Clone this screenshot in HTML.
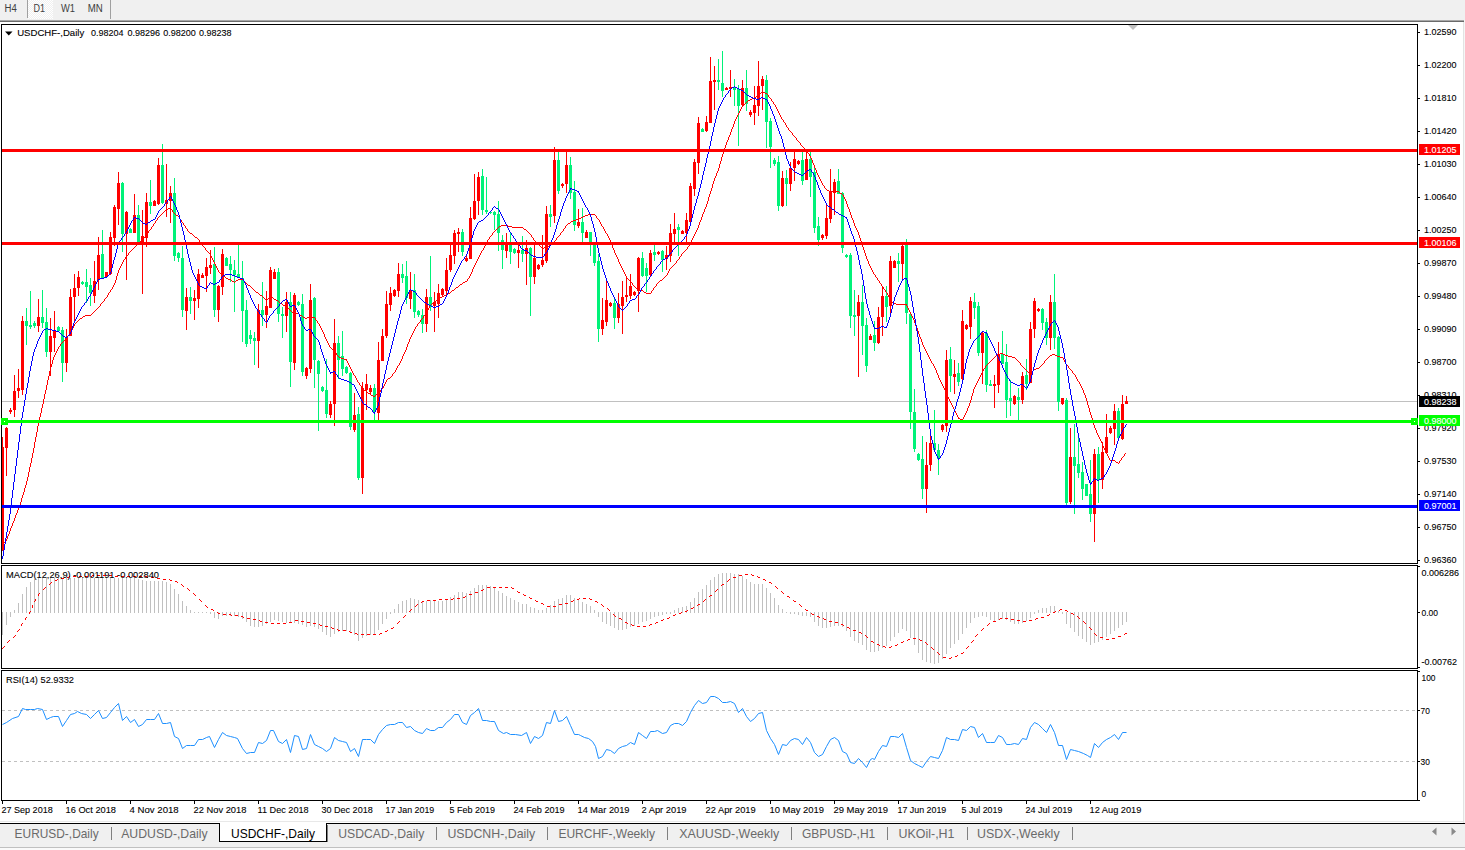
<!DOCTYPE html>
<html><head><meta charset="utf-8"><title>USDCHF-,Daily</title>
<style>html,body{margin:0;padding:0;background:#fff;width:1465px;height:850px;overflow:hidden;font-family:"Liberation Sans",sans-serif}</style></head>
<body>
<svg width="1465" height="850" viewBox="0 0 1465 850" style="position:absolute;left:0;top:0;font-family:'Liberation Sans',sans-serif" shape-rendering="crispEdges">
<rect x="0" y="0" width="1465" height="850" fill="#ffffff" />
<rect x="0" y="0" width="1465" height="20" fill="#f0f0f0" />
<defs><pattern id="chk" width="2" height="2" patternUnits="userSpaceOnUse"><rect width="2" height="2" fill="#f0f0f0"/><rect width="1" height="1" fill="#fff"/><rect x="1" y="1" width="1" height="1" fill="#fff"/></pattern></defs>
<rect x="28" y="0" width="25" height="19" fill="url(#chk)" />
<rect x="27" y="0" width="1" height="18" fill="#a0a0a0" />
<rect x="110" y="0" width="1" height="19" fill="#a0a0a0" />
<rect x="0" y="20" width="1464" height="1" fill="#a8a8a8" />
<rect x="0" y="21" width="1464" height="1" fill="#6a6a6a" />
<text x="4.5" y="11.7" font-size="10" fill="#404040" text-anchor="start" textLength="12.3" lengthAdjust="spacingAndGlyphs" >H4</text>
<text x="33.6" y="11.7" font-size="10" fill="#404040" text-anchor="start" textLength="11.5" lengthAdjust="spacingAndGlyphs" >D1</text>
<text x="61" y="11.7" font-size="10" fill="#404040" text-anchor="start" textLength="14" lengthAdjust="spacingAndGlyphs" >W1</text>
<text x="87.7" y="11.7" font-size="10" fill="#404040" text-anchor="start" textLength="15" lengthAdjust="spacingAndGlyphs" >MN</text>
<rect x="1463" y="22" width="1" height="801" fill="#e3e3e3" />
<rect x="1464" y="20" width="1" height="803" fill="#f6f6f6" />
<rect x="1" y="24" width="1417" height="1" fill="#000" />
<rect x="1" y="563" width="1417" height="1" fill="#000" />
<rect x="1" y="565" width="1417" height="1" fill="#000" />
<rect x="1" y="668" width="1417" height="1" fill="#000" />
<rect x="1" y="670" width="1417" height="1" fill="#000" />
<rect x="1" y="800" width="1417" height="1" fill="#000" />
<rect x="1" y="24" width="1" height="540" fill="#000" />
<rect x="1" y="565" width="1" height="104" fill="#000" />
<rect x="1" y="670" width="1" height="131" fill="#000" />
<rect x="1417" y="24" width="1" height="540" fill="#000" />
<rect x="1417" y="565" width="1" height="104" fill="#000" />
<rect x="1417" y="670" width="1" height="131" fill="#000" />
<rect x="1418" y="32" width="2" height="1" fill="#000" />
<text x="1424" y="35.3" font-size="9.3" fill="#000" stroke="#000" stroke-width="0.1" text-anchor="start" textLength="32.5" lengthAdjust="spacingAndGlyphs" >1.02590</text>
<rect x="1418" y="65" width="2" height="1" fill="#000" />
<text x="1424" y="68.3" font-size="9.3" fill="#000" stroke="#000" stroke-width="0.1" text-anchor="start" textLength="32.5" lengthAdjust="spacingAndGlyphs" >1.02200</text>
<rect x="1418" y="98" width="2" height="1" fill="#000" />
<text x="1424" y="101.3" font-size="9.3" fill="#000" stroke="#000" stroke-width="0.1" text-anchor="start" textLength="32.5" lengthAdjust="spacingAndGlyphs" >1.01810</text>
<rect x="1418" y="131" width="2" height="1" fill="#000" />
<text x="1424" y="134.3" font-size="9.3" fill="#000" stroke="#000" stroke-width="0.1" text-anchor="start" textLength="32.5" lengthAdjust="spacingAndGlyphs" >1.01420</text>
<rect x="1418" y="164" width="2" height="1" fill="#000" />
<text x="1424" y="167.3" font-size="9.3" fill="#000" stroke="#000" stroke-width="0.1" text-anchor="start" textLength="32.5" lengthAdjust="spacingAndGlyphs" >1.01030</text>
<rect x="1418" y="197" width="2" height="1" fill="#000" />
<text x="1424" y="200.3" font-size="9.3" fill="#000" stroke="#000" stroke-width="0.1" text-anchor="start" textLength="32.5" lengthAdjust="spacingAndGlyphs" >1.00640</text>
<rect x="1418" y="230" width="2" height="1" fill="#000" />
<text x="1424" y="233.3" font-size="9.3" fill="#000" stroke="#000" stroke-width="0.1" text-anchor="start" textLength="32.5" lengthAdjust="spacingAndGlyphs" >1.00250</text>
<rect x="1418" y="263" width="2" height="1" fill="#000" />
<text x="1424" y="266.3" font-size="9.3" fill="#000" stroke="#000" stroke-width="0.1" text-anchor="start" textLength="32.5" lengthAdjust="spacingAndGlyphs" >0.99870</text>
<rect x="1418" y="296" width="2" height="1" fill="#000" />
<text x="1424" y="299.3" font-size="9.3" fill="#000" stroke="#000" stroke-width="0.1" text-anchor="start" textLength="32.5" lengthAdjust="spacingAndGlyphs" >0.99480</text>
<rect x="1418" y="329" width="2" height="1" fill="#000" />
<text x="1424" y="332.3" font-size="9.3" fill="#000" stroke="#000" stroke-width="0.1" text-anchor="start" textLength="32.5" lengthAdjust="spacingAndGlyphs" >0.99090</text>
<rect x="1418" y="362" width="2" height="1" fill="#000" />
<text x="1424" y="365.3" font-size="9.3" fill="#000" stroke="#000" stroke-width="0.1" text-anchor="start" textLength="32.5" lengthAdjust="spacingAndGlyphs" >0.98700</text>
<rect x="1418" y="395" width="2" height="1" fill="#000" />
<text x="1424" y="398.3" font-size="9.3" fill="#000" stroke="#000" stroke-width="0.1" text-anchor="start" textLength="32.5" lengthAdjust="spacingAndGlyphs" >0.98310</text>
<rect x="1418" y="428" width="2" height="1" fill="#000" />
<text x="1424" y="431.3" font-size="9.3" fill="#000" stroke="#000" stroke-width="0.1" text-anchor="start" textLength="32.5" lengthAdjust="spacingAndGlyphs" >0.97920</text>
<rect x="1418" y="461" width="2" height="1" fill="#000" />
<text x="1424" y="464.3" font-size="9.3" fill="#000" stroke="#000" stroke-width="0.1" text-anchor="start" textLength="32.5" lengthAdjust="spacingAndGlyphs" >0.97530</text>
<rect x="1418" y="494" width="2" height="1" fill="#000" />
<text x="1424" y="497.3" font-size="9.3" fill="#000" stroke="#000" stroke-width="0.1" text-anchor="start" textLength="32.5" lengthAdjust="spacingAndGlyphs" >0.97140</text>
<rect x="1418" y="527" width="2" height="1" fill="#000" />
<text x="1424" y="530.3" font-size="9.3" fill="#000" stroke="#000" stroke-width="0.1" text-anchor="start" textLength="32.5" lengthAdjust="spacingAndGlyphs" >0.96750</text>
<rect x="1418" y="560" width="2" height="1" fill="#000" />
<text x="1424" y="563.3" font-size="9.3" fill="#000" stroke="#000" stroke-width="0.1" text-anchor="start" textLength="32.5" lengthAdjust="spacingAndGlyphs" >0.96360</text>
<rect x="1418" y="566" width="2" height="1" fill="#000" />
<rect x="1418" y="612" width="2" height="1" fill="#000" />
<rect x="1418" y="667" width="2" height="1" fill="#000" />
<text x="1421.5" y="575.6" font-size="9.3" fill="#000" stroke="#000" stroke-width="0.1" text-anchor="start" textLength="37.5" lengthAdjust="spacingAndGlyphs" >0.006286</text>
<text x="1421.5" y="615.6" font-size="9.3" fill="#000" stroke="#000" stroke-width="0.1" text-anchor="start" textLength="16.5" lengthAdjust="spacingAndGlyphs" >0.00</text>
<text x="1421.5" y="665" font-size="9.3" fill="#000" stroke="#000" stroke-width="0.1" text-anchor="start" textLength="35.5" lengthAdjust="spacingAndGlyphs" >-0.00762</text>
<rect x="1418" y="671" width="2" height="1" fill="#000" />
<rect x="1418" y="710" width="2" height="1" fill="#000" />
<rect x="1418" y="761" width="2" height="1" fill="#000" />
<rect x="1418" y="800" width="2" height="1" fill="#000" />
<text x="1421.5" y="680.6" font-size="9.3" fill="#000" stroke="#000" stroke-width="0.1" text-anchor="start" textLength="14" lengthAdjust="spacingAndGlyphs" >100</text>
<text x="1420.5" y="713.8" font-size="9.3" fill="#000" stroke="#000" stroke-width="0.1" text-anchor="start" textLength="9.3" lengthAdjust="spacingAndGlyphs" >70</text>
<text x="1420.5" y="764.8" font-size="9.3" fill="#000" stroke="#000" stroke-width="0.1" text-anchor="start" textLength="9.3" lengthAdjust="spacingAndGlyphs" >30</text>
<text x="1421.5" y="796.8" font-size="9.3" fill="#000" stroke="#000" stroke-width="0.1" text-anchor="start" textLength="4.6" lengthAdjust="spacingAndGlyphs" >0</text>
<rect x="2" y="401" width="1415" height="1" fill="#c0c0c0" />
<rect x="2" y="437" width="1" height="114" fill="#ff0000" />
<rect x="2" y="447" width="2" height="104" fill="#ff0000" />
<rect x="6" y="427" width="1" height="49" fill="#ff0000" />
<rect x="5" y="428" width="3" height="20" fill="#ff0000" />
<rect x="10" y="408" width="1" height="6" fill="#ff0000" />
<rect x="9" y="410" width="3" height="2" fill="#ff0000" />
<rect x="14" y="375" width="1" height="42" fill="#ff0000" />
<rect x="13" y="391" width="3" height="19" fill="#ff0000" />
<rect x="18" y="369" width="1" height="29" fill="#ff0000" />
<rect x="17" y="388" width="3" height="3" fill="#ff0000" />
<rect x="22" y="316" width="1" height="79" fill="#ff0000" />
<rect x="21" y="321" width="3" height="69" fill="#ff0000" />
<rect x="26" y="308" width="1" height="37" fill="#00f279" />
<rect x="25" y="321" width="3" height="5" fill="#00f279" />
<rect x="30" y="291" width="1" height="38" fill="#00f279" />
<rect x="29" y="325" width="3" height="2" fill="#00f279" />
<rect x="34" y="321" width="1" height="7" fill="#00f279" />
<rect x="33" y="323" width="3" height="3" fill="#00f279" />
<rect x="38" y="299" width="1" height="33" fill="#ff0000" />
<rect x="37" y="317" width="3" height="9" fill="#ff0000" />
<rect x="42" y="290" width="1" height="38" fill="#00f279" />
<rect x="41" y="317" width="3" height="6" fill="#00f279" />
<rect x="46" y="308" width="1" height="49" fill="#00f279" />
<rect x="45" y="322" width="3" height="30" fill="#00f279" />
<rect x="50" y="318" width="1" height="58" fill="#ff0000" />
<rect x="49" y="336" width="3" height="16" fill="#ff0000" />
<rect x="54" y="311" width="1" height="41" fill="#ff0000" />
<rect x="53" y="330" width="3" height="8" fill="#ff0000" />
<rect x="58" y="326" width="1" height="6" fill="#00f279" />
<rect x="57" y="327" width="3" height="4" fill="#00f279" />
<rect x="62" y="327" width="1" height="55" fill="#00f279" />
<rect x="61" y="330" width="3" height="33" fill="#00f279" />
<rect x="66" y="329" width="1" height="43" fill="#ff0000" />
<rect x="65" y="338" width="3" height="25" fill="#ff0000" />
<rect x="70" y="289" width="1" height="47" fill="#ff0000" />
<rect x="69" y="297" width="3" height="39" fill="#ff0000" />
<rect x="74" y="274" width="1" height="47" fill="#ff0000" />
<rect x="73" y="288" width="3" height="9" fill="#ff0000" />
<rect x="78" y="271" width="1" height="25" fill="#ff0000" />
<rect x="77" y="277" width="3" height="11" fill="#ff0000" />
<rect x="82" y="281" width="1" height="4" fill="#00f279" />
<rect x="81" y="282" width="3" height="2" fill="#00f279" />
<rect x="86" y="269" width="1" height="34" fill="#00f279" />
<rect x="85" y="282" width="3" height="5" fill="#00f279" />
<rect x="90" y="278" width="1" height="28" fill="#00f279" />
<rect x="89" y="285" width="3" height="8" fill="#00f279" />
<rect x="94" y="261" width="1" height="42" fill="#ff0000" />
<rect x="93" y="281" width="3" height="15" fill="#ff0000" />
<rect x="98" y="237" width="1" height="53" fill="#ff0000" />
<rect x="97" y="255" width="3" height="25" fill="#ff0000" />
<rect x="102" y="230" width="1" height="49" fill="#00f279" />
<rect x="101" y="254" width="3" height="25" fill="#00f279" />
<rect x="106" y="272" width="1" height="5" fill="#ff0000" />
<rect x="105" y="272" width="3" height="5" fill="#ff0000" />
<rect x="110" y="232" width="1" height="43" fill="#ff0000" />
<rect x="109" y="237" width="3" height="37" fill="#ff0000" />
<rect x="114" y="205" width="1" height="41" fill="#ff0000" />
<rect x="113" y="207" width="3" height="31" fill="#ff0000" />
<rect x="118" y="172" width="1" height="53" fill="#ff0000" />
<rect x="117" y="183" width="3" height="26" fill="#ff0000" />
<rect x="122" y="182" width="1" height="70" fill="#00f279" />
<rect x="121" y="183" width="3" height="51" fill="#00f279" />
<rect x="126" y="211" width="1" height="69" fill="#ff0000" />
<rect x="125" y="212" width="3" height="22" fill="#ff0000" />
<rect x="130" y="228" width="1" height="5" fill="#00f279" />
<rect x="129" y="229" width="3" height="4" fill="#00f279" />
<rect x="134" y="194" width="1" height="39" fill="#ff0000" />
<rect x="133" y="215" width="3" height="18" fill="#ff0000" />
<rect x="138" y="205" width="1" height="37" fill="#00f279" />
<rect x="137" y="215" width="3" height="27" fill="#00f279" />
<rect x="142" y="210" width="1" height="84" fill="#ff0000" />
<rect x="141" y="236" width="3" height="6" fill="#ff0000" />
<rect x="146" y="193" width="1" height="54" fill="#ff0000" />
<rect x="145" y="202" width="3" height="36" fill="#ff0000" />
<rect x="150" y="180" width="1" height="34" fill="#00f279" />
<rect x="149" y="202" width="3" height="4" fill="#00f279" />
<rect x="154" y="200" width="1" height="6" fill="#ff0000" />
<rect x="153" y="201" width="3" height="5" fill="#ff0000" />
<rect x="158" y="158" width="1" height="47" fill="#ff0000" />
<rect x="157" y="165" width="3" height="39" fill="#ff0000" />
<rect x="162" y="144" width="1" height="60" fill="#00f279" />
<rect x="161" y="165" width="3" height="38" fill="#00f279" />
<rect x="166" y="164" width="1" height="53" fill="#ff0000" />
<rect x="165" y="200" width="3" height="4" fill="#ff0000" />
<rect x="170" y="186" width="1" height="37" fill="#ff0000" />
<rect x="169" y="193" width="3" height="8" fill="#ff0000" />
<rect x="174" y="178" width="1" height="83" fill="#00f279" />
<rect x="173" y="193" width="3" height="63" fill="#00f279" />
<rect x="178" y="252" width="1" height="10" fill="#00f279" />
<rect x="177" y="253" width="3" height="5" fill="#00f279" />
<rect x="182" y="246" width="1" height="71" fill="#00f279" />
<rect x="181" y="258" width="3" height="52" fill="#00f279" />
<rect x="186" y="288" width="1" height="42" fill="#ff0000" />
<rect x="185" y="297" width="3" height="14" fill="#ff0000" />
<rect x="190" y="287" width="1" height="27" fill="#00f279" />
<rect x="189" y="297" width="3" height="4" fill="#00f279" />
<rect x="194" y="290" width="1" height="30" fill="#ff0000" />
<rect x="193" y="298" width="3" height="3" fill="#ff0000" />
<rect x="198" y="269" width="1" height="39" fill="#ff0000" />
<rect x="197" y="274" width="3" height="25" fill="#ff0000" />
<rect x="202" y="273" width="1" height="5" fill="#ff0000" />
<rect x="201" y="275" width="3" height="3" fill="#ff0000" />
<rect x="206" y="258" width="1" height="34" fill="#ff0000" />
<rect x="205" y="267" width="3" height="9" fill="#ff0000" />
<rect x="210" y="250" width="1" height="24" fill="#ff0000" />
<rect x="209" y="265" width="3" height="3" fill="#ff0000" />
<rect x="214" y="247" width="1" height="70" fill="#00f279" />
<rect x="213" y="264" width="3" height="46" fill="#00f279" />
<rect x="218" y="285" width="1" height="37" fill="#ff0000" />
<rect x="217" y="286" width="3" height="24" fill="#ff0000" />
<rect x="222" y="249" width="1" height="46" fill="#ff0000" />
<rect x="221" y="254" width="3" height="33" fill="#ff0000" />
<rect x="226" y="257" width="1" height="9" fill="#00f279" />
<rect x="225" y="258" width="3" height="8" fill="#00f279" />
<rect x="230" y="256" width="1" height="26" fill="#00f279" />
<rect x="229" y="264" width="3" height="6" fill="#00f279" />
<rect x="234" y="260" width="1" height="52" fill="#00f279" />
<rect x="233" y="270" width="3" height="5" fill="#00f279" />
<rect x="238" y="245" width="1" height="33" fill="#00f279" />
<rect x="237" y="274" width="3" height="4" fill="#00f279" />
<rect x="242" y="261" width="1" height="81" fill="#00f279" />
<rect x="241" y="278" width="3" height="33" fill="#00f279" />
<rect x="246" y="300" width="1" height="47" fill="#00f279" />
<rect x="245" y="310" width="3" height="34" fill="#00f279" />
<rect x="250" y="330" width="1" height="14" fill="#00f279" />
<rect x="249" y="335" width="3" height="4" fill="#00f279" />
<rect x="254" y="332" width="1" height="33" fill="#00f279" />
<rect x="253" y="338" width="3" height="3" fill="#00f279" />
<rect x="258" y="304" width="1" height="64" fill="#ff0000" />
<rect x="257" y="310" width="3" height="31" fill="#ff0000" />
<rect x="262" y="282" width="1" height="44" fill="#00f279" />
<rect x="261" y="310" width="3" height="5" fill="#00f279" />
<rect x="266" y="291" width="1" height="37" fill="#ff0000" />
<rect x="265" y="306" width="3" height="9" fill="#ff0000" />
<rect x="270" y="267" width="1" height="41" fill="#ff0000" />
<rect x="269" y="270" width="3" height="38" fill="#ff0000" />
<rect x="274" y="269" width="1" height="10" fill="#ff0000" />
<rect x="273" y="272" width="3" height="7" fill="#ff0000" />
<rect x="278" y="268" width="1" height="54" fill="#00f279" />
<rect x="277" y="272" width="3" height="42" fill="#00f279" />
<rect x="282" y="307" width="1" height="31" fill="#00f279" />
<rect x="281" y="314" width="3" height="2" fill="#00f279" />
<rect x="286" y="292" width="1" height="40" fill="#ff0000" />
<rect x="285" y="302" width="3" height="14" fill="#ff0000" />
<rect x="290" y="292" width="1" height="95" fill="#00f279" />
<rect x="289" y="302" width="3" height="60" fill="#00f279" />
<rect x="294" y="293" width="1" height="77" fill="#ff0000" />
<rect x="293" y="295" width="3" height="68" fill="#ff0000" />
<rect x="298" y="301" width="1" height="5" fill="#00f279" />
<rect x="297" y="302" width="3" height="3" fill="#00f279" />
<rect x="302" y="294" width="1" height="82" fill="#00f279" />
<rect x="301" y="304" width="3" height="68" fill="#00f279" />
<rect x="306" y="367" width="1" height="12" fill="#ff0000" />
<rect x="305" y="368" width="3" height="8" fill="#ff0000" />
<rect x="310" y="284" width="1" height="89" fill="#ff0000" />
<rect x="309" y="300" width="3" height="69" fill="#ff0000" />
<rect x="314" y="297" width="1" height="91" fill="#00f279" />
<rect x="313" y="298" width="3" height="62" fill="#00f279" />
<rect x="318" y="360" width="1" height="71" fill="#00f279" />
<rect x="317" y="361" width="3" height="13" fill="#00f279" />
<rect x="322" y="386" width="1" height="6" fill="#00f279" />
<rect x="321" y="387" width="3" height="4" fill="#00f279" />
<rect x="326" y="359" width="1" height="59" fill="#00f279" />
<rect x="325" y="390" width="3" height="24" fill="#00f279" />
<rect x="330" y="401" width="1" height="17" fill="#ff0000" />
<rect x="329" y="404" width="3" height="11" fill="#ff0000" />
<rect x="334" y="319" width="1" height="107" fill="#ff0000" />
<rect x="333" y="343" width="3" height="61" fill="#ff0000" />
<rect x="338" y="336" width="1" height="43" fill="#00f279" />
<rect x="337" y="343" width="3" height="17" fill="#00f279" />
<rect x="342" y="331" width="1" height="45" fill="#00f279" />
<rect x="341" y="356" width="3" height="13" fill="#00f279" />
<rect x="346" y="366" width="1" height="8" fill="#00f279" />
<rect x="345" y="367" width="3" height="6" fill="#00f279" />
<rect x="350" y="372" width="1" height="58" fill="#00f279" />
<rect x="349" y="373" width="3" height="54" fill="#00f279" />
<rect x="354" y="393" width="1" height="39" fill="#ff0000" />
<rect x="353" y="415" width="3" height="15" fill="#ff0000" />
<rect x="358" y="407" width="1" height="73" fill="#00f279" />
<rect x="357" y="414" width="3" height="64" fill="#00f279" />
<rect x="362" y="382" width="1" height="112" fill="#ff0000" />
<rect x="361" y="388" width="3" height="90" fill="#ff0000" />
<rect x="366" y="374" width="1" height="36" fill="#ff0000" />
<rect x="365" y="384" width="3" height="6" fill="#ff0000" />
<rect x="370" y="385" width="1" height="9" fill="#ff0000" />
<rect x="369" y="388" width="3" height="4" fill="#ff0000" />
<rect x="374" y="384" width="1" height="36" fill="#00f279" />
<rect x="373" y="388" width="3" height="24" fill="#00f279" />
<rect x="378" y="342" width="1" height="78" fill="#ff0000" />
<rect x="377" y="360" width="3" height="53" fill="#ff0000" />
<rect x="382" y="329" width="1" height="32" fill="#ff0000" />
<rect x="381" y="336" width="3" height="25" fill="#ff0000" />
<rect x="386" y="291" width="1" height="47" fill="#ff0000" />
<rect x="385" y="304" width="3" height="32" fill="#ff0000" />
<rect x="390" y="287" width="1" height="24" fill="#ff0000" />
<rect x="389" y="293" width="3" height="12" fill="#ff0000" />
<rect x="394" y="289" width="1" height="8" fill="#ff0000" />
<rect x="393" y="290" width="3" height="6" fill="#ff0000" />
<rect x="398" y="263" width="1" height="34" fill="#ff0000" />
<rect x="397" y="274" width="3" height="17" fill="#ff0000" />
<rect x="402" y="264" width="1" height="19" fill="#00f279" />
<rect x="401" y="274" width="3" height="4" fill="#00f279" />
<rect x="406" y="261" width="1" height="43" fill="#00f279" />
<rect x="405" y="276" width="3" height="22" fill="#00f279" />
<rect x="410" y="272" width="1" height="37" fill="#ff0000" />
<rect x="409" y="290" width="3" height="9" fill="#ff0000" />
<rect x="414" y="274" width="1" height="44" fill="#00f279" />
<rect x="413" y="290" width="3" height="22" fill="#00f279" />
<rect x="418" y="310" width="1" height="7" fill="#00f279" />
<rect x="417" y="311" width="3" height="4" fill="#00f279" />
<rect x="422" y="309" width="1" height="24" fill="#00f279" />
<rect x="421" y="315" width="3" height="9" fill="#00f279" />
<rect x="426" y="289" width="1" height="43" fill="#ff0000" />
<rect x="425" y="297" width="3" height="27" fill="#ff0000" />
<rect x="430" y="256" width="1" height="55" fill="#00f279" />
<rect x="429" y="297" width="3" height="9" fill="#00f279" />
<rect x="434" y="292" width="1" height="40" fill="#ff0000" />
<rect x="433" y="302" width="3" height="4" fill="#ff0000" />
<rect x="438" y="284" width="1" height="34" fill="#ff0000" />
<rect x="437" y="293" width="3" height="11" fill="#ff0000" />
<rect x="442" y="288" width="1" height="8" fill="#ff0000" />
<rect x="441" y="289" width="3" height="6" fill="#ff0000" />
<rect x="446" y="258" width="1" height="37" fill="#ff0000" />
<rect x="445" y="270" width="3" height="21" fill="#ff0000" />
<rect x="450" y="244" width="1" height="28" fill="#ff0000" />
<rect x="449" y="255" width="3" height="15" fill="#ff0000" />
<rect x="454" y="230" width="1" height="34" fill="#ff0000" />
<rect x="453" y="233" width="3" height="23" fill="#ff0000" />
<rect x="458" y="228" width="1" height="24" fill="#ff0000" />
<rect x="457" y="232" width="3" height="2" fill="#ff0000" />
<rect x="462" y="229" width="1" height="27" fill="#00f279" />
<rect x="461" y="232" width="3" height="20" fill="#00f279" />
<rect x="466" y="256" width="1" height="6" fill="#ff0000" />
<rect x="465" y="258" width="3" height="3" fill="#ff0000" />
<rect x="470" y="207" width="1" height="52" fill="#ff0000" />
<rect x="469" y="218" width="3" height="41" fill="#ff0000" />
<rect x="474" y="174" width="1" height="46" fill="#ff0000" />
<rect x="473" y="201" width="3" height="18" fill="#ff0000" />
<rect x="478" y="172" width="1" height="43" fill="#ff0000" />
<rect x="477" y="177" width="3" height="24" fill="#ff0000" />
<rect x="482" y="169" width="1" height="46" fill="#00f279" />
<rect x="481" y="176" width="3" height="34" fill="#00f279" />
<rect x="486" y="177" width="1" height="37" fill="#00f279" />
<rect x="485" y="210" width="3" height="2" fill="#00f279" />
<rect x="490" y="211" width="1" height="3" fill="#00f279" />
<rect x="489" y="212" width="3" height="1" fill="#00f279" />
<rect x="494" y="211" width="1" height="19" fill="#00f279" />
<rect x="493" y="212" width="3" height="3" fill="#00f279" />
<rect x="498" y="201" width="1" height="50" fill="#00f279" />
<rect x="497" y="214" width="3" height="19" fill="#00f279" />
<rect x="502" y="235" width="1" height="34" fill="#00f279" />
<rect x="501" y="240" width="3" height="10" fill="#00f279" />
<rect x="506" y="233" width="1" height="25" fill="#ff0000" />
<rect x="505" y="243" width="3" height="8" fill="#ff0000" />
<rect x="510" y="233" width="1" height="31" fill="#00f279" />
<rect x="509" y="244" width="3" height="8" fill="#00f279" />
<rect x="514" y="248" width="1" height="6" fill="#00f279" />
<rect x="513" y="249" width="3" height="4" fill="#00f279" />
<rect x="518" y="245" width="1" height="23" fill="#ff0000" />
<rect x="517" y="250" width="3" height="3" fill="#ff0000" />
<rect x="522" y="236" width="1" height="26" fill="#00f279" />
<rect x="521" y="250" width="3" height="4" fill="#00f279" />
<rect x="526" y="240" width="1" height="45" fill="#ff0000" />
<rect x="525" y="248" width="3" height="6" fill="#ff0000" />
<rect x="530" y="247" width="1" height="69" fill="#00f279" />
<rect x="529" y="248" width="3" height="29" fill="#00f279" />
<rect x="534" y="245" width="1" height="39" fill="#ff0000" />
<rect x="533" y="258" width="3" height="19" fill="#ff0000" />
<rect x="538" y="264" width="1" height="6" fill="#ff0000" />
<rect x="537" y="265" width="3" height="4" fill="#ff0000" />
<rect x="542" y="235" width="1" height="32" fill="#ff0000" />
<rect x="541" y="260" width="3" height="5" fill="#ff0000" />
<rect x="546" y="206" width="1" height="57" fill="#ff0000" />
<rect x="545" y="214" width="3" height="47" fill="#ff0000" />
<rect x="550" y="205" width="1" height="22" fill="#00f279" />
<rect x="549" y="214" width="3" height="3" fill="#00f279" />
<rect x="554" y="147" width="1" height="76" fill="#ff0000" />
<rect x="553" y="160" width="3" height="56" fill="#ff0000" />
<rect x="558" y="152" width="1" height="42" fill="#00f279" />
<rect x="557" y="160" width="3" height="31" fill="#00f279" />
<rect x="562" y="183" width="1" height="5" fill="#ff0000" />
<rect x="561" y="184" width="3" height="2" fill="#ff0000" />
<rect x="566" y="152" width="1" height="41" fill="#ff0000" />
<rect x="565" y="165" width="3" height="19" fill="#ff0000" />
<rect x="570" y="157" width="1" height="42" fill="#00f279" />
<rect x="569" y="165" width="3" height="28" fill="#00f279" />
<rect x="574" y="181" width="1" height="50" fill="#00f279" />
<rect x="573" y="192" width="3" height="33" fill="#00f279" />
<rect x="578" y="209" width="1" height="19" fill="#ff0000" />
<rect x="577" y="222" width="3" height="4" fill="#ff0000" />
<rect x="582" y="208" width="1" height="34" fill="#00f279" />
<rect x="581" y="222" width="3" height="11" fill="#00f279" />
<rect x="586" y="230" width="1" height="8" fill="#ff0000" />
<rect x="585" y="232" width="3" height="6" fill="#ff0000" />
<rect x="590" y="232" width="1" height="24" fill="#00f279" />
<rect x="589" y="232" width="3" height="10" fill="#00f279" />
<rect x="594" y="242" width="1" height="24" fill="#00f279" />
<rect x="593" y="244" width="3" height="19" fill="#00f279" />
<rect x="598" y="254" width="1" height="88" fill="#00f279" />
<rect x="597" y="261" width="3" height="68" fill="#00f279" />
<rect x="602" y="298" width="1" height="37" fill="#ff0000" />
<rect x="601" y="320" width="3" height="9" fill="#ff0000" />
<rect x="606" y="278" width="1" height="48" fill="#ff0000" />
<rect x="605" y="300" width="3" height="22" fill="#ff0000" />
<rect x="610" y="302" width="1" height="5" fill="#ff0000" />
<rect x="609" y="303" width="3" height="3" fill="#ff0000" />
<rect x="614" y="298" width="1" height="31" fill="#00f279" />
<rect x="613" y="303" width="3" height="15" fill="#00f279" />
<rect x="618" y="293" width="1" height="30" fill="#ff0000" />
<rect x="617" y="304" width="3" height="14" fill="#ff0000" />
<rect x="622" y="281" width="1" height="53" fill="#ff0000" />
<rect x="621" y="297" width="3" height="9" fill="#ff0000" />
<rect x="626" y="276" width="1" height="26" fill="#ff0000" />
<rect x="625" y="295" width="3" height="2" fill="#ff0000" />
<rect x="630" y="274" width="1" height="25" fill="#ff0000" />
<rect x="629" y="286" width="3" height="10" fill="#ff0000" />
<rect x="634" y="291" width="1" height="5" fill="#ff0000" />
<rect x="633" y="292" width="3" height="3" fill="#ff0000" />
<rect x="638" y="257" width="1" height="55" fill="#ff0000" />
<rect x="637" y="258" width="3" height="33" fill="#ff0000" />
<rect x="642" y="252" width="1" height="25" fill="#00f279" />
<rect x="641" y="258" width="3" height="18" fill="#00f279" />
<rect x="646" y="263" width="1" height="29" fill="#00f279" />
<rect x="645" y="268" width="3" height="8" fill="#00f279" />
<rect x="650" y="250" width="1" height="26" fill="#ff0000" />
<rect x="649" y="253" width="3" height="22" fill="#ff0000" />
<rect x="654" y="245" width="1" height="16" fill="#00f279" />
<rect x="653" y="252" width="3" height="3" fill="#00f279" />
<rect x="658" y="251" width="1" height="4" fill="#ff0000" />
<rect x="657" y="252" width="3" height="2" fill="#ff0000" />
<rect x="662" y="250" width="1" height="22" fill="#00f279" />
<rect x="661" y="251" width="3" height="9" fill="#00f279" />
<rect x="666" y="246" width="1" height="24" fill="#ff0000" />
<rect x="665" y="255" width="3" height="4" fill="#ff0000" />
<rect x="670" y="224" width="1" height="38" fill="#ff0000" />
<rect x="669" y="233" width="3" height="23" fill="#ff0000" />
<rect x="674" y="213" width="1" height="30" fill="#ff0000" />
<rect x="673" y="229" width="3" height="5" fill="#ff0000" />
<rect x="678" y="224" width="1" height="32" fill="#00f279" />
<rect x="677" y="227" width="3" height="3" fill="#00f279" />
<rect x="682" y="230" width="1" height="4" fill="#ff0000" />
<rect x="681" y="231" width="3" height="3" fill="#ff0000" />
<rect x="686" y="213" width="1" height="32" fill="#ff0000" />
<rect x="685" y="220" width="3" height="13" fill="#ff0000" />
<rect x="690" y="183" width="1" height="40" fill="#ff0000" />
<rect x="689" y="186" width="3" height="36" fill="#ff0000" />
<rect x="694" y="159" width="1" height="37" fill="#ff0000" />
<rect x="693" y="162" width="3" height="27" fill="#ff0000" />
<rect x="698" y="117" width="1" height="57" fill="#ff0000" />
<rect x="697" y="123" width="3" height="40" fill="#ff0000" />
<rect x="702" y="128" width="1" height="4" fill="#00f279" />
<rect x="701" y="129" width="3" height="3" fill="#00f279" />
<rect x="706" y="116" width="1" height="16" fill="#ff0000" />
<rect x="705" y="122" width="3" height="9" fill="#ff0000" />
<rect x="710" y="57" width="1" height="66" fill="#ff0000" />
<rect x="709" y="81" width="3" height="42" fill="#ff0000" />
<rect x="714" y="66" width="1" height="44" fill="#ff0000" />
<rect x="713" y="80" width="3" height="2" fill="#ff0000" />
<rect x="718" y="59" width="1" height="31" fill="#00f279" />
<rect x="717" y="80" width="3" height="2" fill="#00f279" />
<rect x="722" y="51" width="1" height="46" fill="#00f279" />
<rect x="721" y="83" width="3" height="8" fill="#00f279" />
<rect x="726" y="87" width="1" height="3" fill="#ff0000" />
<rect x="725" y="88" width="3" height="2" fill="#ff0000" />
<rect x="730" y="70" width="1" height="27" fill="#ff0000" />
<rect x="729" y="87" width="3" height="2" fill="#ff0000" />
<rect x="734" y="79" width="1" height="27" fill="#00f279" />
<rect x="733" y="87" width="3" height="3" fill="#00f279" />
<rect x="738" y="85" width="1" height="61" fill="#00f279" />
<rect x="737" y="89" width="3" height="17" fill="#00f279" />
<rect x="742" y="80" width="1" height="27" fill="#ff0000" />
<rect x="741" y="88" width="3" height="17" fill="#ff0000" />
<rect x="746" y="70" width="1" height="41" fill="#00f279" />
<rect x="745" y="88" width="3" height="16" fill="#00f279" />
<rect x="750" y="110" width="1" height="7" fill="#ff0000" />
<rect x="749" y="112" width="3" height="3" fill="#ff0000" />
<rect x="754" y="86" width="1" height="39" fill="#ff0000" />
<rect x="753" y="105" width="3" height="8" fill="#ff0000" />
<rect x="758" y="61" width="1" height="55" fill="#ff0000" />
<rect x="757" y="86" width="3" height="20" fill="#ff0000" />
<rect x="762" y="76" width="1" height="34" fill="#ff0000" />
<rect x="761" y="79" width="3" height="7" fill="#ff0000" />
<rect x="766" y="75" width="1" height="73" fill="#00f279" />
<rect x="765" y="80" width="3" height="42" fill="#00f279" />
<rect x="770" y="118" width="1" height="50" fill="#00f279" />
<rect x="769" y="121" width="3" height="26" fill="#00f279" />
<rect x="774" y="158" width="1" height="8" fill="#00f279" />
<rect x="773" y="160" width="3" height="4" fill="#00f279" />
<rect x="778" y="156" width="1" height="55" fill="#00f279" />
<rect x="777" y="162" width="3" height="44" fill="#00f279" />
<rect x="782" y="171" width="1" height="36" fill="#ff0000" />
<rect x="781" y="178" width="3" height="28" fill="#ff0000" />
<rect x="786" y="170" width="1" height="36" fill="#00f279" />
<rect x="785" y="178" width="3" height="6" fill="#00f279" />
<rect x="790" y="162" width="1" height="29" fill="#ff0000" />
<rect x="789" y="168" width="3" height="16" fill="#ff0000" />
<rect x="794" y="151" width="1" height="30" fill="#ff0000" />
<rect x="793" y="159" width="3" height="9" fill="#ff0000" />
<rect x="798" y="160" width="1" height="5" fill="#ff0000" />
<rect x="797" y="161" width="3" height="3" fill="#ff0000" />
<rect x="802" y="151" width="1" height="34" fill="#00f279" />
<rect x="801" y="160" width="3" height="21" fill="#00f279" />
<rect x="806" y="149" width="1" height="31" fill="#ff0000" />
<rect x="805" y="159" width="3" height="21" fill="#ff0000" />
<rect x="810" y="152" width="1" height="45" fill="#00f279" />
<rect x="809" y="159" width="3" height="18" fill="#00f279" />
<rect x="814" y="168" width="1" height="65" fill="#00f279" />
<rect x="813" y="172" width="3" height="56" fill="#00f279" />
<rect x="818" y="217" width="1" height="29" fill="#00f279" />
<rect x="817" y="226" width="3" height="14" fill="#00f279" />
<rect x="822" y="234" width="1" height="6" fill="#ff0000" />
<rect x="821" y="235" width="3" height="3" fill="#ff0000" />
<rect x="826" y="204" width="1" height="35" fill="#ff0000" />
<rect x="825" y="218" width="3" height="18" fill="#ff0000" />
<rect x="830" y="169" width="1" height="54" fill="#ff0000" />
<rect x="829" y="192" width="3" height="27" fill="#ff0000" />
<rect x="834" y="179" width="1" height="36" fill="#ff0000" />
<rect x="833" y="182" width="3" height="11" fill="#ff0000" />
<rect x="838" y="169" width="1" height="25" fill="#00f279" />
<rect x="837" y="181" width="3" height="13" fill="#00f279" />
<rect x="842" y="192" width="1" height="61" fill="#00f279" />
<rect x="841" y="193" width="3" height="55" fill="#00f279" />
<rect x="846" y="254" width="1" height="4" fill="#00f279" />
<rect x="845" y="255" width="3" height="2" fill="#00f279" />
<rect x="850" y="253" width="1" height="75" fill="#00f279" />
<rect x="849" y="255" width="3" height="61" fill="#00f279" />
<rect x="854" y="290" width="1" height="46" fill="#00f279" />
<rect x="853" y="315" width="3" height="2" fill="#00f279" />
<rect x="858" y="295" width="1" height="82" fill="#ff0000" />
<rect x="857" y="302" width="3" height="14" fill="#ff0000" />
<rect x="862" y="285" width="1" height="70" fill="#00f279" />
<rect x="861" y="302" width="3" height="24" fill="#00f279" />
<rect x="866" y="318" width="1" height="54" fill="#00f279" />
<rect x="865" y="325" width="3" height="41" fill="#00f279" />
<rect x="870" y="334" width="1" height="6" fill="#ff0000" />
<rect x="869" y="336" width="3" height="4" fill="#ff0000" />
<rect x="874" y="321" width="1" height="30" fill="#00f279" />
<rect x="873" y="335" width="3" height="8" fill="#00f279" />
<rect x="878" y="307" width="1" height="37" fill="#ff0000" />
<rect x="877" y="317" width="3" height="26" fill="#ff0000" />
<rect x="882" y="286" width="1" height="50" fill="#ff0000" />
<rect x="881" y="296" width="3" height="21" fill="#ff0000" />
<rect x="886" y="286" width="1" height="36" fill="#00f279" />
<rect x="885" y="296" width="3" height="11" fill="#00f279" />
<rect x="890" y="256" width="1" height="59" fill="#ff0000" />
<rect x="889" y="261" width="3" height="45" fill="#ff0000" />
<rect x="894" y="260" width="1" height="8" fill="#ff0000" />
<rect x="893" y="261" width="3" height="7" fill="#ff0000" />
<rect x="898" y="253" width="1" height="29" fill="#00f279" />
<rect x="897" y="261" width="3" height="3" fill="#00f279" />
<rect x="902" y="244" width="1" height="36" fill="#ff0000" />
<rect x="901" y="246" width="3" height="18" fill="#ff0000" />
<rect x="906" y="239" width="1" height="85" fill="#00f279" />
<rect x="905" y="245" width="3" height="68" fill="#00f279" />
<rect x="910" y="313" width="1" height="116" fill="#00f279" />
<rect x="909" y="314" width="3" height="98" fill="#00f279" />
<rect x="914" y="389" width="1" height="63" fill="#00f279" />
<rect x="913" y="412" width="3" height="37" fill="#00f279" />
<rect x="918" y="453" width="1" height="8" fill="#00f279" />
<rect x="917" y="454" width="3" height="6" fill="#00f279" />
<rect x="922" y="436" width="1" height="63" fill="#00f279" />
<rect x="921" y="459" width="3" height="30" fill="#00f279" />
<rect x="926" y="442" width="1" height="71" fill="#ff0000" />
<rect x="925" y="465" width="3" height="24" fill="#ff0000" />
<rect x="930" y="436" width="1" height="35" fill="#ff0000" />
<rect x="929" y="443" width="3" height="22" fill="#ff0000" />
<rect x="934" y="410" width="1" height="41" fill="#00f279" />
<rect x="933" y="443" width="3" height="7" fill="#00f279" />
<rect x="938" y="444" width="1" height="31" fill="#00f279" />
<rect x="937" y="450" width="3" height="9" fill="#00f279" />
<rect x="942" y="424" width="1" height="8" fill="#ff0000" />
<rect x="941" y="425" width="3" height="5" fill="#ff0000" />
<rect x="946" y="350" width="1" height="82" fill="#ff0000" />
<rect x="945" y="360" width="3" height="66" fill="#ff0000" />
<rect x="950" y="347" width="1" height="45" fill="#00f279" />
<rect x="949" y="359" width="3" height="17" fill="#00f279" />
<rect x="954" y="360" width="1" height="34" fill="#ff0000" />
<rect x="953" y="374" width="3" height="3" fill="#ff0000" />
<rect x="958" y="363" width="1" height="23" fill="#00f279" />
<rect x="957" y="373" width="3" height="9" fill="#00f279" />
<rect x="962" y="310" width="1" height="70" fill="#ff0000" />
<rect x="961" y="321" width="3" height="58" fill="#ff0000" />
<rect x="966" y="324" width="1" height="6" fill="#ff0000" />
<rect x="965" y="325" width="3" height="4" fill="#ff0000" />
<rect x="970" y="297" width="1" height="42" fill="#ff0000" />
<rect x="969" y="301" width="3" height="26" fill="#ff0000" />
<rect x="974" y="293" width="1" height="26" fill="#00f279" />
<rect x="973" y="302" width="3" height="6" fill="#00f279" />
<rect x="978" y="302" width="1" height="54" fill="#00f279" />
<rect x="977" y="306" width="3" height="47" fill="#00f279" />
<rect x="982" y="332" width="1" height="52" fill="#ff0000" />
<rect x="981" y="333" width="3" height="20" fill="#ff0000" />
<rect x="986" y="330" width="1" height="62" fill="#00f279" />
<rect x="985" y="333" width="3" height="52" fill="#00f279" />
<rect x="990" y="380" width="1" height="6" fill="#00f279" />
<rect x="989" y="384" width="3" height="2" fill="#00f279" />
<rect x="994" y="375" width="1" height="33" fill="#ff0000" />
<rect x="993" y="384" width="3" height="2" fill="#ff0000" />
<rect x="998" y="342" width="1" height="51" fill="#ff0000" />
<rect x="997" y="354" width="3" height="31" fill="#ff0000" />
<rect x="1002" y="331" width="1" height="33" fill="#00f279" />
<rect x="1001" y="354" width="3" height="10" fill="#00f279" />
<rect x="1006" y="344" width="1" height="74" fill="#00f279" />
<rect x="1005" y="362" width="3" height="38" fill="#00f279" />
<rect x="1010" y="380" width="1" height="36" fill="#00f279" />
<rect x="1009" y="398" width="3" height="3" fill="#00f279" />
<rect x="1014" y="395" width="1" height="10" fill="#ff0000" />
<rect x="1013" y="396" width="3" height="8" fill="#ff0000" />
<rect x="1018" y="388" width="1" height="33" fill="#00f279" />
<rect x="1017" y="397" width="3" height="3" fill="#00f279" />
<rect x="1022" y="372" width="1" height="32" fill="#ff0000" />
<rect x="1021" y="376" width="3" height="24" fill="#ff0000" />
<rect x="1026" y="359" width="1" height="31" fill="#00f279" />
<rect x="1025" y="375" width="3" height="9" fill="#00f279" />
<rect x="1030" y="322" width="1" height="61" fill="#ff0000" />
<rect x="1029" y="329" width="3" height="54" fill="#ff0000" />
<rect x="1034" y="298" width="1" height="40" fill="#ff0000" />
<rect x="1033" y="301" width="3" height="28" fill="#ff0000" />
<rect x="1038" y="308" width="1" height="4" fill="#ff0000" />
<rect x="1037" y="309" width="3" height="2" fill="#ff0000" />
<rect x="1042" y="308" width="1" height="22" fill="#00f279" />
<rect x="1041" y="309" width="3" height="14" fill="#00f279" />
<rect x="1046" y="318" width="1" height="27" fill="#00f279" />
<rect x="1045" y="322" width="3" height="16" fill="#00f279" />
<rect x="1050" y="295" width="1" height="55" fill="#ff0000" />
<rect x="1049" y="302" width="3" height="36" fill="#ff0000" />
<rect x="1054" y="274" width="1" height="75" fill="#00f279" />
<rect x="1053" y="302" width="3" height="36" fill="#00f279" />
<rect x="1058" y="336" width="1" height="75" fill="#00f279" />
<rect x="1057" y="337" width="3" height="65" fill="#00f279" />
<rect x="1062" y="398" width="1" height="7" fill="#ff0000" />
<rect x="1061" y="398" width="3" height="6" fill="#ff0000" />
<rect x="1066" y="398" width="1" height="107" fill="#00f279" />
<rect x="1065" y="400" width="3" height="103" fill="#00f279" />
<rect x="1070" y="428" width="1" height="76" fill="#ff0000" />
<rect x="1069" y="457" width="3" height="45" fill="#ff0000" />
<rect x="1074" y="424" width="1" height="90" fill="#00f279" />
<rect x="1073" y="457" width="3" height="9" fill="#00f279" />
<rect x="1078" y="436" width="1" height="42" fill="#00f279" />
<rect x="1077" y="464" width="3" height="9" fill="#00f279" />
<rect x="1082" y="462" width="1" height="38" fill="#00f279" />
<rect x="1081" y="472" width="3" height="17" fill="#00f279" />
<rect x="1086" y="484" width="1" height="12" fill="#00f279" />
<rect x="1085" y="484" width="3" height="12" fill="#00f279" />
<rect x="1090" y="460" width="1" height="62" fill="#00f279" />
<rect x="1089" y="494" width="3" height="20" fill="#00f279" />
<rect x="1094" y="449" width="1" height="93" fill="#ff0000" />
<rect x="1093" y="454" width="3" height="60" fill="#ff0000" />
<rect x="1098" y="447" width="1" height="56" fill="#00f279" />
<rect x="1097" y="454" width="3" height="26" fill="#00f279" />
<rect x="1102" y="442" width="1" height="47" fill="#ff0000" />
<rect x="1101" y="452" width="3" height="28" fill="#ff0000" />
<rect x="1106" y="414" width="1" height="40" fill="#ff0000" />
<rect x="1105" y="437" width="3" height="16" fill="#ff0000" />
<rect x="1110" y="426" width="1" height="8" fill="#ff0000" />
<rect x="1109" y="428" width="3" height="5" fill="#ff0000" />
<rect x="1114" y="404" width="1" height="41" fill="#ff0000" />
<rect x="1113" y="411" width="3" height="18" fill="#ff0000" />
<rect x="1118" y="408" width="1" height="31" fill="#00f279" />
<rect x="1117" y="411" width="3" height="27" fill="#00f279" />
<rect x="1122" y="395" width="1" height="45" fill="#ff0000" />
<rect x="1121" y="404" width="3" height="35" fill="#ff0000" />
<rect x="1126" y="396" width="1" height="8" fill="#ff0000" />
<rect x="1125" y="401" width="3" height="3" fill="#ff0000" />
<path fill="#ff0000" d="M3 543h1v1h-1zM4 542h1v1h-1zM5 541h1v1h-1zM6 539h1v2h-1zM7 536h1v3h-1zM8 534h1v2h-1zM9 531h1v3h-1zM10 528h1v3h-1zM11 526h1v2h-1zM12 523h1v3h-1zM13 521h1v2h-1zM14 518h1v3h-1zM15 515h1v3h-1zM16 513h1v2h-1zM17 510h1v3h-1zM18 508h1v2h-1zM19 505h1v3h-1zM20 502h1v3h-1zM21 498h1v4h-1zM22 495h1v3h-1zM23 492h1v3h-1zM24 488h1v4h-1zM25 485h1v3h-1zM26 481h1v4h-1zM27 477h1v4h-1zM28 472h1v5h-1zM29 467h1v5h-1zM30 463h1v4h-1zM31 458h1v5h-1zM32 453h1v5h-1zM33 448h1v5h-1zM34 442h1v6h-1zM35 437h1v5h-1zM36 432h1v5h-1zM37 426h1v6h-1zM38 421h1v5h-1zM39 417h1v4h-1zM40 413h1v4h-1zM41 408h1v5h-1zM42 404h1v4h-1zM43 399h1v5h-1zM44 394h1v5h-1zM45 390h1v4h-1zM46 385h1v5h-1zM47 380h1v5h-1zM48 376h1v4h-1zM49 371h1v5h-1zM50 367h1v4h-1zM51 364h1v3h-1zM52 360h1v4h-1zM53 357h1v3h-1zM54 355h1v2h-1zM55 353h1v2h-1zM56 351h1v2h-1zM57 349h1v2h-1zM58 347h1v2h-1zM59 346h1v1h-1zM60 344h1v2h-1zM61 343h1v1h-1zM62 342h1v1h-1zM63 341h1v1h-1zM64 340h1v1h-1zM65 339h1v1h-1zM66 338h1v1h-1zM67 336h1v2h-1zM68 335h1v1h-1zM69 333h1v2h-1zM70 332h1v1h-1zM71 330h1v2h-1zM72 328h1v2h-1zM73 326h1v2h-1zM74 324h1v2h-1zM75 323h1v1h-1zM76 322h1v1h-1zM77 321h1v1h-1zM78 320h1v1h-1zM79 319h1v1h-1zM80 318h2v1h-2zM82 317h1v1h-1zM83 316h2v1h-2zM85 315h6v1h-6zM91 314h1v1h-1zM92 313h1v1h-1zM93 312h1v1h-1zM94 311h1v1h-1zM95 310h1v1h-1zM96 309h1v1h-1zM97 308h1v1h-1zM98 307h1v1h-1zM99 306h1v1h-1zM100 304h1v2h-1zM101 303h1v1h-1zM102 302h1v1h-1zM103 301h1v1h-1zM104 299h1v2h-1zM105 298h1v1h-1zM106 297h1v1h-1zM107 295h1v2h-1zM108 293h1v2h-1zM109 292h1v1h-1zM110 290h1v2h-1zM111 289h1v1h-1zM112 287h1v2h-1zM113 285h1v2h-1zM114 283h1v2h-1zM115 280h1v3h-1zM116 276h1v4h-1zM117 273h1v3h-1zM118 270h1v3h-1zM119 268h1v2h-1zM120 266h1v2h-1zM121 264h1v2h-1zM122 262h1v2h-1zM123 260h1v2h-1zM124 259h1v1h-1zM125 257h1v2h-1zM126 256h1v1h-1zM127 255h1v1h-1zM128 253h1v2h-1zM129 252h1v1h-1zM130 251h1v1h-1zM131 250h1v1h-1zM132 249h1v1h-1zM133 248h1v1h-1zM134 247h1v1h-1zM135 246h1v1h-1zM136 245h1v1h-1zM137 244h1v1h-1zM138 243h1v1h-1zM139 242h1v1h-1zM140 241h2v1h-2zM142 240h1v1h-1zM143 238h1v2h-1zM144 237h1v1h-1zM145 235h1v2h-1zM146 234h1v1h-1zM147 233h1v1h-1zM148 231h1v2h-1zM149 230h1v1h-1zM150 229h1v1h-1zM151 227h1v2h-1zM152 226h1v1h-1zM153 224h1v2h-1zM154 223h1v1h-1zM155 221h1v2h-1zM156 220h1v1h-1zM157 218h1v2h-1zM158 217h1v1h-1zM159 216h1v1h-1zM160 215h1v1h-1zM161 214h1v1h-1zM162 213h1v1h-1zM163 212h1v1h-1zM164 211h1v1h-1zM165 210h1v1h-1zM166 209h2v1h-2zM168 208h3v1h-3zM171 209h1v1h-1zM172 210h1v2h-1zM173 212h1v1h-1zM174 213h1v1h-1zM175 214h1v1h-1zM176 215h2v1h-2zM178 216h1v1h-1zM179 217h1v2h-1zM180 219h1v1h-1zM181 220h1v2h-1zM182 222h1v1h-1zM183 223h1v2h-1zM184 225h1v1h-1zM185 226h1v2h-1zM186 228h1v1h-1zM187 229h1v2h-1zM188 231h1v1h-1zM189 232h1v1h-1zM190 233h2v1h-2zM192 234h1v1h-1zM193 235h1v1h-1zM194 236h1v1h-1zM195 237h2v1h-2zM197 238h1v1h-1zM198 239h1v1h-1zM199 240h1v2h-1zM200 242h1v1h-1zM201 243h1v1h-1zM202 244h1v2h-1zM203 246h1v1h-1zM204 247h1v1h-1zM205 248h1v2h-1zM206 250h1v1h-1zM207 251h1v1h-1zM208 252h1v1h-1zM209 253h1v1h-1zM210 254h1v2h-1zM211 256h1v2h-1zM212 258h1v2h-1zM213 260h1v2h-1zM214 262h1v2h-1zM215 264h1v2h-1zM216 266h1v2h-1zM217 268h1v2h-1zM218 270h1v2h-1zM219 272h1v1h-1zM220 273h2v1h-2zM222 274h1v1h-1zM223 275h1v1h-1zM224 276h1v1h-1zM225 277h1v1h-1zM226 278h2v1h-2zM228 279h3v1h-3zM231 280h1v1h-1zM232 281h2v1h-2zM234 282h1v1h-1zM235 281h1v1h-1zM236 280h2v1h-2zM238 279h5v1h-5zM243 280h1v1h-1zM244 281h1v1h-1zM245 282h1v1h-1zM246 283h1v1h-1zM247 284h1v1h-1zM248 285h2v1h-2zM250 286h1v1h-1zM251 287h1v1h-1zM252 288h1v1h-1zM253 289h1v1h-1zM254 290h1v1h-1zM255 291h1v1h-1zM256 292h2v1h-2zM258 293h1v1h-1zM259 294h1v1h-1zM260 295h2v1h-2zM262 296h1v1h-1zM263 297h1v1h-1zM264 298h1v1h-1zM265 299h1v1h-1zM266 300h1v1h-1zM267 299h1v1h-1zM268 298h1v1h-1zM269 297h1v1h-1zM270 296h1v1h-1zM271 297h2v1h-2zM273 298h1v1h-1zM274 299h2v1h-2zM276 300h2v1h-2zM278 301h1v1h-1zM279 302h1v1h-1zM280 303h2v1h-2zM282 304h1v1h-1zM283 305h2v1h-2zM285 306h2v1h-2zM287 307h1v1h-1zM288 308h1v1h-1zM289 309h1v1h-1zM290 310h1v1h-1zM291 311h1v1h-1zM292 312h2v1h-2zM294 313h5v1h-5zM299 314h1v1h-1zM300 315h2v1h-2zM302 316h1v1h-1zM303 317h2v1h-2zM305 318h2v1h-2zM307 317h2v1h-2zM309 316h3v1h-3zM312 317h3v1h-3zM315 318h1v2h-1zM316 320h1v1h-1zM317 321h1v2h-1zM318 323h1v1h-1zM319 324h1v2h-1zM320 326h1v2h-1zM321 328h1v2h-1zM322 330h1v2h-1zM323 332h1v2h-1zM324 334h1v3h-1zM325 337h1v2h-1zM326 339h1v2h-1zM327 341h1v2h-1zM328 343h1v2h-1zM329 345h1v2h-1zM330 347h1v1h-1zM331 348h1v1h-1zM332 349h1v1h-1zM333 350h1v1h-1zM334 351h1v1h-1zM335 352h1v1h-1zM336 353h1v2h-1zM337 355h1v1h-1zM338 356h1v1h-1zM339 357h2v1h-2zM341 358h3v1h-3zM344 359h2v1h-2zM346 359h1v2h-1zM347 361h1v2h-1zM348 363h1v2h-1zM349 365h1v2h-1zM350 367h1v2h-1zM351 369h1v2h-1zM352 371h1v2h-1zM353 373h1v2h-1zM354 375h1v1h-1zM355 376h1v2h-1zM356 378h1v2h-1zM357 380h1v2h-1zM358 382h1v1h-1zM359 383h1v2h-1zM360 385h1v1h-1zM361 386h1v2h-1zM362 388h1v1h-1zM363 389h1v1h-1zM364 390h2v1h-2zM366 391h1v1h-1zM367 392h1v1h-1zM368 393h2v1h-2zM370 394h1v1h-1zM371 395h2v1h-2zM373 396h2v1h-2zM375 395h1v1h-1zM376 394h2v1h-2zM378 393h1v1h-1zM379 392h1v1h-1zM380 390h1v2h-1zM381 389h1v1h-1zM382 388h1v1h-1zM383 386h1v2h-1zM384 384h1v2h-1zM385 382h1v2h-1zM386 380h1v2h-1zM387 379h1v1h-1zM388 378h2v1h-2zM390 377h1v1h-1zM391 376h1v1h-1zM392 374h1v2h-1zM393 373h1v1h-1zM394 372h1v1h-1zM395 370h1v2h-1zM396 368h1v2h-1zM397 366h1v2h-1zM398 365h1v1h-1zM399 363h1v2h-1zM400 361h1v2h-1zM401 359h1v2h-1zM402 356h1v3h-1zM403 354h1v2h-1zM404 352h1v2h-1zM405 350h1v2h-1zM406 347h1v3h-1zM407 344h1v3h-1zM408 342h1v2h-1zM409 339h1v3h-1zM410 337h1v2h-1zM411 335h1v2h-1zM412 333h1v2h-1zM413 331h1v2h-1zM414 329h1v2h-1zM415 327h1v2h-1zM416 326h1v1h-1zM417 324h1v2h-1zM418 323h1v1h-1zM419 322h1v1h-1zM420 320h1v2h-1zM421 319h1v1h-1zM422 318h1v1h-1zM423 316h1v2h-1zM424 315h1v1h-1zM425 313h1v2h-1zM426 312h1v1h-1zM427 310h1v2h-1zM428 308h1v2h-1zM429 306h1v2h-1zM430 305h1v1h-1zM431 304h1v1h-1zM432 303h2v1h-2zM434 302h1v1h-1zM435 301h1v1h-1zM436 300h2v1h-2zM438 299h1v1h-1zM439 298h1v1h-1zM440 297h2v1h-2zM442 296h2v1h-2zM444 295h3v1h-3zM447 294h1v1h-1zM448 293h2v1h-2zM450 292h1v1h-1zM451 291h1v1h-1zM452 290h2v1h-2zM454 289h1v1h-1zM455 288h1v1h-1zM456 287h2v1h-2zM458 286h1v1h-1zM459 285h1v1h-1zM460 284h2v1h-2zM462 283h1v1h-1zM463 282h2v1h-2zM465 281h2v1h-2zM467 279h1v2h-1zM468 278h1v1h-1zM469 276h1v2h-1zM470 274h1v2h-1zM471 272h1v2h-1zM472 269h1v3h-1zM473 267h1v2h-1zM474 265h1v2h-1zM475 263h1v2h-1zM476 261h1v2h-1zM477 259h1v2h-1zM478 257h1v2h-1zM479 255h1v2h-1zM480 253h1v2h-1zM481 251h1v2h-1zM482 250h1v1h-1zM483 248h1v2h-1zM484 246h1v2h-1zM485 244h1v2h-1zM486 242h1v2h-1zM487 240h1v2h-1zM488 239h1v1h-1zM489 237h1v2h-1zM490 236h1v1h-1zM491 235h1v1h-1zM492 233h1v2h-1zM493 232h1v1h-1zM494 231h1v1h-1zM495 230h1v1h-1zM496 229h1v1h-1zM497 228h1v1h-1zM498 227h1v1h-1zM499 226h2v1h-2zM501 225h7v1h-7zM508 226h4v1h-4zM512 227h11v1h-11zM523 228h1v1h-1zM524 229h2v1h-2zM526 230h1v1h-1zM527 231h1v1h-1zM528 232h1v1h-1zM529 233h1v1h-1zM530 234h1v1h-1zM531 235h1v2h-1zM532 237h1v1h-1zM533 238h1v2h-1zM534 240h1v1h-1zM535 241h1v1h-1zM536 242h1v1h-1zM537 243h1v1h-1zM538 244h1v1h-1zM539 245h1v1h-1zM540 246h1v1h-1zM541 247h1v1h-1zM542 248h2v1h-2zM544 247h3v1h-3zM547 246h2v1h-2zM549 245h2v1h-2zM551 244h1v1h-1zM552 243h1v1h-1zM553 242h1v1h-1zM554 241h1v1h-1zM555 240h1v1h-1zM556 238h1v2h-1zM557 237h1v1h-1zM558 236h1v1h-1zM559 235h1v1h-1zM560 233h1v2h-1zM561 232h1v1h-1zM562 231h1v1h-1zM563 229h1v2h-1zM564 228h1v1h-1zM565 226h1v2h-1zM566 225h1v1h-1zM567 224h1v1h-1zM568 223h2v1h-2zM570 222h1v1h-1zM571 221h2v1h-2zM573 220h3v1h-3zM576 219h3v1h-3zM579 218h2v1h-2zM581 217h2v1h-2zM583 216h2v1h-2zM585 215h3v1h-3zM588 214h7v1h-7zM595 215h1v1h-1zM596 216h1v2h-1zM597 218h1v1h-1zM598 219h1v1h-1zM599 220h1v2h-1zM600 222h1v2h-1zM601 224h1v2h-1zM602 226h1v1h-1zM603 227h1v2h-1zM604 229h1v2h-1zM605 231h1v2h-1zM606 233h1v1h-1zM607 234h1v2h-1zM608 236h1v2h-1zM609 238h1v2h-1zM610 240h1v3h-1zM611 243h1v2h-1zM612 245h1v3h-1zM613 248h1v2h-1zM614 250h1v3h-1zM615 253h1v2h-1zM616 255h1v2h-1zM617 257h1v2h-1zM618 259h1v3h-1zM619 262h1v2h-1zM620 264h1v2h-1zM621 266h1v2h-1zM622 268h1v2h-1zM623 270h1v2h-1zM624 272h1v2h-1zM625 274h1v2h-1zM626 276h1v2h-1zM627 278h1v1h-1zM628 279h1v1h-1zM629 280h1v1h-1zM630 281h1v1h-1zM631 282h1v1h-1zM632 283h1v2h-1zM633 285h1v1h-1zM634 286h1v1h-1zM635 287h1v1h-1zM636 288h2v1h-2zM638 289h2v1h-2zM640 290h3v1h-3zM643 291h1v1h-1zM644 292h2v1h-2zM646 293h5v1h-5zM651 291h1v2h-1zM652 290h1v1h-1zM653 288h1v2h-1zM654 287h1v1h-1zM655 286h1v1h-1zM656 284h1v2h-1zM657 283h1v1h-1zM658 282h1v1h-1zM659 281h1v1h-1zM660 280h2v1h-2zM662 279h1v1h-1zM663 278h1v1h-1zM664 277h1v1h-1zM665 276h1v1h-1zM666 275h1v1h-1zM667 273h1v2h-1zM668 271h1v2h-1zM669 269h1v2h-1zM670 268h1v1h-1zM671 267h1v1h-1zM672 266h1v1h-1zM673 265h1v1h-1zM674 264h1v1h-1zM675 263h1v1h-1zM676 261h1v2h-1zM677 260h1v1h-1zM678 259h1v1h-1zM679 257h1v2h-1zM680 256h1v1h-1zM681 254h1v2h-1zM682 253h1v1h-1zM683 252h1v1h-1zM684 251h1v1h-1zM685 250h1v1h-1zM686 249h1v1h-1zM687 247h1v2h-1zM688 246h1v1h-1zM689 244h1v2h-1zM690 242h1v2h-1zM691 240h1v2h-1zM692 238h1v2h-1zM693 236h1v2h-1zM694 234h1v2h-1zM695 232h1v2h-1zM696 230h1v2h-1zM697 228h1v2h-1zM698 225h1v3h-1zM699 222h1v3h-1zM700 220h1v2h-1zM701 217h1v3h-1zM702 214h1v3h-1zM703 212h1v2h-1zM704 209h1v3h-1zM705 207h1v2h-1zM706 204h1v3h-1zM707 201h1v3h-1zM708 197h1v4h-1zM709 194h1v3h-1zM710 191h1v3h-1zM711 188h1v3h-1zM712 184h1v4h-1zM713 181h1v3h-1zM714 178h1v3h-1zM715 176h1v2h-1zM716 173h1v3h-1zM717 171h1v2h-1zM718 168h1v3h-1zM719 164h1v4h-1zM720 161h1v3h-1zM721 157h1v4h-1zM722 154h1v3h-1zM723 151h1v3h-1zM724 148h1v3h-1zM725 145h1v3h-1zM726 142h1v3h-1zM727 140h1v2h-1zM728 137h1v3h-1zM729 135h1v2h-1zM730 132h1v3h-1zM731 129h1v3h-1zM732 127h1v2h-1zM733 124h1v3h-1zM734 121h1v3h-1zM735 119h1v2h-1zM736 117h1v2h-1zM737 115h1v2h-1zM738 113h1v2h-1zM739 111h1v2h-1zM740 109h1v2h-1zM741 107h1v2h-1zM742 106h1v1h-1zM743 105h1v1h-1zM744 104h1v1h-1zM745 103h1v1h-1zM746 102h1v1h-1zM747 101h1v1h-1zM748 100h2v1h-2zM750 99h2v1h-2zM752 98h3v1h-3zM755 97h1v1h-1zM756 96h2v1h-2zM758 95h1v1h-1zM759 94h1v1h-1zM760 93h1v1h-1zM761 92h1v1h-1zM762 91h1v1h-1zM763 92h2v1h-2zM765 93h2v1h-2zM767 94h1v1h-1zM768 95h1v2h-1zM769 97h1v1h-1zM770 98h1v1h-1zM771 99h1v2h-1zM772 101h1v1h-1zM773 102h1v2h-1zM774 104h1v1h-1zM775 105h1v2h-1zM776 107h1v2h-1zM777 109h1v2h-1zM778 111h1v2h-1zM779 113h1v2h-1zM780 115h1v2h-1zM781 117h1v2h-1zM782 119h1v1h-1zM783 120h1v2h-1zM784 122h1v1h-1zM785 123h1v2h-1zM786 125h1v2h-1zM787 127h1v1h-1zM788 128h1v2h-1zM789 130h1v1h-1zM790 131h1v1h-1zM791 132h1v1h-1zM792 133h1v2h-1zM793 135h1v1h-1zM794 136h1v1h-1zM795 137h1v1h-1zM796 138h1v2h-1zM797 140h1v1h-1zM798 141h1v1h-1zM799 142h1v1h-1zM800 143h1v2h-1zM801 145h1v1h-1zM802 146h1v1h-1zM803 147h1v1h-1zM804 148h1v1h-1zM805 149h1v1h-1zM806 150h1v1h-1zM807 151h1v2h-1zM808 153h1v1h-1zM809 154h1v2h-1zM810 156h1v2h-1zM811 158h1v2h-1zM812 160h1v3h-1zM813 163h1v2h-1zM814 165h1v3h-1zM815 168h1v2h-1zM816 170h1v3h-1zM817 173h1v2h-1zM818 175h1v2h-1zM819 177h1v2h-1zM820 179h1v2h-1zM821 181h1v2h-1zM822 183h1v2h-1zM823 185h1v1h-1zM824 186h1v2h-1zM825 188h1v1h-1zM826 189h1v1h-1zM827 190h2v1h-2zM829 191h10v1h-10zM839 192h1v1h-1zM840 193h2v1h-2zM842 194h1v1h-1zM843 195h1v2h-1zM844 197h1v2h-1zM845 199h1v2h-1zM846 201h1v3h-1zM847 204h1v3h-1zM848 207h1v2h-1zM849 209h1v3h-1zM850 212h1v3h-1zM851 215h1v3h-1zM852 218h1v2h-1zM853 220h1v3h-1zM854 223h1v3h-1zM855 226h1v2h-1zM856 228h1v2h-1zM857 230h1v2h-1zM858 232h1v3h-1zM859 235h1v3h-1zM860 238h1v3h-1zM861 241h1v3h-1zM862 244h1v3h-1zM863 247h1v3h-1zM864 250h1v3h-1zM865 253h1v3h-1zM866 256h1v3h-1zM867 259h1v2h-1zM868 261h1v3h-1zM869 264h1v2h-1zM870 266h1v2h-1zM871 268h1v2h-1zM872 270h1v2h-1zM873 272h1v2h-1zM874 274h1v1h-1zM875 275h1v2h-1zM876 277h1v1h-1zM877 278h1v2h-1zM878 280h1v1h-1zM879 281h1v2h-1zM880 283h1v1h-1zM881 284h1v2h-1zM882 286h1v1h-1zM883 287h1v2h-1zM884 289h1v1h-1zM885 290h1v2h-1zM886 292h1v1h-1zM887 293h1v2h-1zM888 295h1v2h-1zM889 297h1v2h-1zM890 299h1v2h-1zM891 301h1v1h-1zM892 302h2v1h-2zM894 303h2v1h-2zM896 304h10v1h-10zM906 304h1v2h-1zM907 306h1v2h-1zM908 308h1v2h-1zM909 310h1v2h-1zM910 312h1v2h-1zM911 314h1v2h-1zM912 316h1v2h-1zM913 318h1v2h-1zM914 320h1v3h-1zM915 323h1v3h-1zM916 326h1v2h-1zM917 328h1v3h-1zM918 331h1v3h-1zM919 334h1v3h-1zM920 337h1v2h-1zM921 339h1v3h-1zM922 342h1v3h-1zM923 345h1v2h-1zM924 347h1v2h-1zM925 349h1v2h-1zM926 351h1v2h-1zM927 353h1v2h-1zM928 355h1v2h-1zM929 357h1v2h-1zM930 359h1v2h-1zM931 361h1v2h-1zM932 363h1v1h-1zM933 364h1v2h-1zM934 366h1v2h-1zM935 368h1v2h-1zM936 370h1v3h-1zM937 373h1v2h-1zM938 375h1v3h-1zM939 378h1v2h-1zM940 380h1v2h-1zM941 382h1v2h-1zM942 384h1v2h-1zM943 386h1v2h-1zM944 388h1v2h-1zM945 390h1v2h-1zM946 392h1v3h-1zM947 395h1v2h-1zM948 397h1v2h-1zM949 399h1v2h-1zM950 401h1v2h-1zM951 403h1v2h-1zM952 405h1v2h-1zM953 407h1v2h-1zM954 409h1v2h-1zM955 411h1v2h-1zM956 413h1v2h-1zM957 415h1v2h-1zM958 417h1v2h-1zM959 418h1v1h-1zM960 419h3v1h-3zM963 417h1v2h-1zM964 415h1v2h-1zM965 413h1v2h-1zM966 411h1v2h-1zM967 408h1v3h-1zM968 406h1v2h-1zM969 403h1v3h-1zM970 400h1v3h-1zM971 396h1v4h-1zM972 393h1v3h-1zM973 389h1v4h-1zM974 387h1v2h-1zM975 385h1v2h-1zM976 383h1v2h-1zM977 381h1v2h-1zM978 379h1v2h-1zM979 377h1v2h-1zM980 375h1v2h-1zM981 373h1v2h-1zM982 371h1v2h-1zM983 369h1v2h-1zM984 368h1v1h-1zM985 366h1v2h-1zM986 365h1v1h-1zM987 364h1v1h-1zM988 363h1v1h-1zM989 362h1v1h-1zM990 361h1v1h-1zM991 360h1v1h-1zM992 359h1v1h-1zM993 358h1v1h-1zM994 357h1v1h-1zM995 356h1v1h-1zM996 355h2v1h-2zM998 354h2v1h-2zM1000 353h3v1h-3zM1003 354h2v1h-2zM1005 355h3v1h-3zM1008 356h4v1h-4zM1012 357h3v1h-3zM1015 358h1v1h-1zM1016 359h1v1h-1zM1017 360h1v1h-1zM1018 361h1v1h-1zM1019 362h1v1h-1zM1020 363h1v2h-1zM1021 365h1v1h-1zM1022 366h1v1h-1zM1023 367h1v1h-1zM1024 368h1v1h-1zM1025 369h1v1h-1zM1026 370h1v1h-1zM1027 371h1v1h-1zM1028 372h1v1h-1zM1029 373h1v1h-1zM1030 374h1v1h-1zM1031 373h1v1h-1zM1032 371h1v2h-1zM1033 370h1v1h-1zM1034 369h2v1h-2zM1036 368h3v1h-3zM1039 367h1v1h-1zM1040 366h1v1h-1zM1041 365h1v1h-1zM1042 364h1v1h-1zM1043 363h1v1h-1zM1044 361h1v2h-1zM1045 360h1v1h-1zM1046 359h1v1h-1zM1047 358h1v1h-1zM1048 357h1v1h-1zM1049 356h1v1h-1zM1050 355h2v1h-2zM1052 354h3v1h-3zM1055 355h2v1h-2zM1057 356h3v1h-3zM1060 357h3v1h-3zM1063 358h1v2h-1zM1064 360h1v2h-1zM1065 362h1v2h-1zM1066 364h1v1h-1zM1067 365h1v1h-1zM1068 366h1v2h-1zM1069 368h1v1h-1zM1070 369h1v1h-1zM1071 370h1v1h-1zM1072 371h1v2h-1zM1073 373h1v1h-1zM1074 374h1v1h-1zM1075 375h1v2h-1zM1076 377h1v2h-1zM1077 379h1v2h-1zM1078 381h1v1h-1zM1079 382h1v2h-1zM1080 384h1v2h-1zM1081 386h1v2h-1zM1082 388h1v2h-1zM1083 390h1v3h-1zM1084 393h1v2h-1zM1085 395h1v3h-1zM1086 398h1v3h-1zM1087 401h1v4h-1zM1088 405h1v3h-1zM1089 408h1v4h-1zM1090 412h1v3h-1zM1091 415h1v3h-1zM1092 418h1v4h-1zM1093 422h1v3h-1zM1094 425h1v3h-1zM1095 428h1v2h-1zM1096 430h1v3h-1zM1097 433h1v2h-1zM1098 435h1v2h-1zM1099 437h1v2h-1zM1100 439h1v2h-1zM1101 441h1v2h-1zM1102 443h1v3h-1zM1103 446h1v2h-1zM1104 448h1v2h-1zM1105 450h1v2h-1zM1106 452h1v2h-1zM1107 454h1v2h-1zM1108 456h1v2h-1zM1109 458h1v2h-1zM1110 460h5v1h-5zM1115 461h1v1h-1zM1116 462h2v1h-2zM1118 463h1v1h-1zM1119 461h1v2h-1zM1120 460h1v1h-1zM1121 458h1v2h-1zM1122 457h1v1h-1zM1123 456h1v1h-1zM1124 454h1v2h-1zM1125 453h1v1h-1z"/>
<path fill="#0000ff" d="M2 556h1v3h-1zM3 550h1v6h-1zM4 544h1v6h-1zM5 538h1v6h-1zM6 532h1v6h-1zM7 526h1v6h-1zM8 520h1v6h-1zM9 514h1v6h-1zM10 506h1v8h-1zM11 498h1v8h-1zM12 490h1v8h-1zM13 482h1v8h-1zM14 474h1v8h-1zM15 466h1v8h-1zM16 458h1v8h-1zM17 450h1v8h-1zM18 442h1v8h-1zM19 434h1v8h-1zM20 426h1v8h-1zM21 418h1v8h-1zM22 412h1v6h-1zM23 406h1v6h-1zM24 400h1v6h-1zM25 394h1v6h-1zM26 388h1v6h-1zM27 383h1v5h-1zM28 377h1v6h-1zM29 371h1v6h-1zM30 366h1v5h-1zM31 361h1v5h-1zM32 356h1v5h-1zM33 352h1v4h-1zM34 349h1v3h-1zM35 347h1v2h-1zM36 344h1v3h-1zM37 341h1v3h-1zM38 339h1v2h-1zM39 337h1v2h-1zM40 335h1v2h-1zM41 333h1v2h-1zM42 331h1v2h-1zM43 330h1v1h-1zM44 329h2v1h-2zM46 328h2v1h-2zM48 329h4v1h-4zM52 330h4v1h-4zM56 331h3v1h-3zM59 332h1v1h-1zM60 333h1v1h-1zM61 334h1v1h-1zM62 335h1v1h-1zM63 336h2v1h-2zM65 337h2v1h-2zM67 336h1v1h-1zM68 335h1v1h-1zM69 334h1v1h-1zM70 332h1v2h-1zM71 329h1v3h-1zM72 326h1v3h-1zM73 323h1v3h-1zM74 321h1v2h-1zM75 319h1v2h-1zM76 317h1v2h-1zM77 315h1v2h-1zM78 313h1v2h-1zM79 311h1v2h-1zM80 309h1v2h-1zM81 307h1v2h-1zM82 306h1v1h-1zM83 305h1v1h-1zM84 303h1v2h-1zM85 302h1v1h-1zM86 301h1v1h-1zM87 299h1v2h-1zM88 297h1v2h-1zM89 296h1v1h-1zM90 294h1v2h-1zM91 292h1v2h-1zM92 290h1v2h-1zM93 288h1v2h-1zM94 286h1v2h-1zM95 284h1v2h-1zM96 282h1v2h-1zM97 280h1v2h-1zM98 279h2v1h-2zM100 278h4v1h-4zM104 277h3v1h-3zM107 276h1v1h-1zM108 275h1v1h-1zM109 274h1v1h-1zM110 272h1v2h-1zM111 268h1v4h-1zM112 264h1v4h-1zM113 260h1v4h-1zM114 257h1v3h-1zM115 253h1v4h-1zM116 249h1v4h-1zM117 245h1v4h-1zM118 243h1v2h-1zM119 241h1v2h-1zM120 240h1v1h-1zM121 238h1v2h-1zM122 237h1v1h-1zM123 236h1v1h-1zM124 234h1v2h-1zM125 233h1v1h-1zM126 231h1v2h-1zM127 229h1v2h-1zM128 227h1v2h-1zM129 225h1v2h-1zM130 223h1v2h-1zM131 221h1v2h-1zM132 220h1v1h-1zM133 218h1v2h-1zM134 217h2v1h-2zM136 218h3v1h-3zM139 219h1v1h-1zM140 220h1v1h-1zM141 221h1v1h-1zM142 222h1v1h-1zM143 223h2v1h-2zM145 224h2v1h-2zM147 223h1v1h-1zM148 222h2v1h-2zM150 221h1v1h-1zM151 220h2v1h-2zM153 219h2v1h-2zM155 217h1v2h-1zM156 215h1v2h-1zM157 213h1v2h-1zM158 211h1v2h-1zM159 210h1v1h-1zM160 209h1v1h-1zM161 208h1v1h-1zM162 207h1v1h-1zM163 206h1v1h-1zM164 204h1v2h-1zM165 203h1v1h-1zM166 202h1v1h-1zM167 200h1v2h-1zM168 199h1v1h-1zM169 197h1v2h-1zM170 196h1v1h-1zM171 197h1v2h-1zM172 199h1v2h-1zM173 201h1v2h-1zM174 203h1v2h-1zM175 205h1v2h-1zM176 207h1v3h-1zM177 210h1v2h-1zM178 212h1v3h-1zM179 215h1v4h-1zM180 219h1v4h-1zM181 223h1v4h-1zM182 227h1v4h-1zM183 231h1v4h-1zM184 235h1v5h-1zM185 240h1v5h-1zM186 245h1v4h-1zM187 249h1v5h-1zM188 254h1v4h-1zM189 258h1v4h-1zM190 262h1v4h-1zM191 266h1v4h-1zM192 270h1v3h-1zM193 273h1v2h-1zM194 275h1v2h-1zM195 277h1v2h-1zM196 279h1v2h-1zM197 281h1v2h-1zM198 283h1v2h-1zM199 285h1v1h-1zM200 286h2v1h-2zM202 287h2v1h-2zM204 288h3v1h-3zM207 286h1v2h-1zM208 285h1v1h-1zM209 283h1v2h-1zM210 282h1v1h-1zM211 283h2v1h-2zM213 284h2v1h-2zM215 283h2v1h-2zM217 282h2v1h-2zM219 280h1v2h-1zM220 279h1v1h-1zM221 277h1v2h-1zM222 276h1v1h-1zM223 275h2v1h-2zM225 274h7v1h-7zM232 275h3v1h-3zM235 276h2v1h-2zM237 277h3v1h-3zM240 278h3v1h-3zM243 279h1v2h-1zM244 281h1v2h-1zM245 283h1v2h-1zM246 285h1v3h-1zM247 288h1v2h-1zM248 290h1v3h-1zM249 293h1v2h-1zM250 295h1v3h-1zM251 298h1v2h-1zM252 300h1v2h-1zM253 302h1v2h-1zM254 304h1v2h-1zM255 306h1v2h-1zM256 308h1v1h-1zM257 309h1v2h-1zM258 311h1v1h-1zM259 312h1v2h-1zM260 314h1v1h-1zM261 315h1v2h-1zM262 317h1v1h-1zM263 318h1v1h-1zM264 319h1v2h-1zM265 321h1v1h-1zM266 322h1v1h-1zM267 320h1v2h-1zM268 318h1v2h-1zM269 316h1v2h-1zM270 315h1v1h-1zM271 314h1v1h-1zM272 313h1v1h-1zM273 311h1v2h-1zM274 310h1v1h-1zM275 309h1v1h-1zM276 308h1v1h-1zM277 307h1v1h-1zM278 306h1v1h-1zM279 304h1v2h-1zM280 303h1v1h-1zM281 302h1v1h-1zM282 301h1v1h-1zM283 300h2v1h-2zM285 299h2v1h-2zM287 300h1v2h-1zM288 302h1v2h-1zM289 304h1v2h-1zM290 306h2v1h-2zM292 305h3v1h-3zM295 306h1v2h-1zM296 308h1v2h-1zM297 310h1v2h-1zM298 312h1v2h-1zM299 314h1v3h-1zM300 317h1v4h-1zM301 321h1v3h-1zM302 324h1v2h-1zM303 326h1v1h-1zM304 327h1v2h-1zM305 329h1v1h-1zM306 330h2v1h-2zM308 329h3v1h-3zM311 330h1v2h-1zM312 332h1v2h-1zM313 334h1v2h-1zM314 336h1v1h-1zM315 337h1v1h-1zM316 338h1v1h-1zM317 339h1v1h-1zM318 340h1v2h-1zM319 342h1v3h-1zM320 345h1v4h-1zM321 349h1v3h-1zM322 352h1v3h-1zM323 355h1v3h-1zM324 358h1v3h-1zM325 361h1v3h-1zM326 364h1v2h-1zM327 366h1v2h-1zM328 368h1v2h-1zM329 370h1v2h-1zM330 372h1v2h-1zM331 372h2v1h-2zM333 371h2v1h-2zM335 372h1v2h-1zM336 374h1v1h-1zM337 375h1v2h-1zM338 377h1v1h-1zM339 378h2v1h-2zM341 379h3v1h-3zM344 380h3v1h-3zM347 381h2v1h-2zM349 382h2v1h-2zM351 383h1v1h-1zM352 384h2v1h-2zM354 385h1v2h-1zM355 387h1v2h-1zM356 389h1v2h-1zM357 391h1v2h-1zM358 393h1v2h-1zM359 395h1v2h-1zM360 397h1v2h-1zM361 399h1v2h-1zM362 401h1v2h-1zM363 403h1v1h-1zM364 404h2v1h-2zM366 405h1v1h-1zM367 406h1v1h-1zM368 407h2v1h-2zM370 408h1v1h-1zM371 409h1v1h-1zM372 410h1v2h-1zM373 412h1v1h-1zM374 412h1v2h-1zM375 410h1v2h-1zM376 408h1v2h-1zM377 406h1v2h-1zM378 402h1v4h-1zM379 397h1v5h-1zM380 393h1v4h-1zM381 388h1v5h-1zM382 383h1v5h-1zM383 379h1v4h-1zM384 374h1v5h-1zM385 370h1v4h-1zM386 365h1v5h-1zM387 361h1v4h-1zM388 357h1v4h-1zM389 353h1v4h-1zM390 349h1v4h-1zM391 345h1v4h-1zM392 341h1v4h-1zM393 337h1v4h-1zM394 333h1v4h-1zM395 329h1v4h-1zM396 325h1v4h-1zM397 321h1v4h-1zM398 318h1v3h-1zM399 314h1v4h-1zM400 310h1v4h-1zM401 306h1v4h-1zM402 304h1v2h-1zM403 302h1v2h-1zM404 300h1v2h-1zM405 298h1v2h-1zM406 296h1v2h-1zM407 294h1v2h-1zM408 292h1v2h-1zM409 290h1v2h-1zM410 289h1v1h-1zM411 290h2v1h-2zM413 291h2v1h-2zM415 292h1v1h-1zM416 293h1v2h-1zM417 295h1v1h-1zM418 296h1v1h-1zM419 297h1v1h-1zM420 298h1v1h-1zM421 299h1v1h-1zM422 300h1v1h-1zM423 301h1v1h-1zM424 302h2v1h-2zM426 303h1v1h-1zM427 304h2v1h-2zM429 305h2v1h-2zM431 306h2v1h-2zM433 307h3v1h-3zM436 306h3v1h-3zM439 305h1v1h-1zM440 304h2v1h-2zM442 303h1v1h-1zM443 301h1v2h-1zM444 299h1v2h-1zM445 297h1v2h-1zM446 295h1v2h-1zM447 293h1v2h-1zM448 290h1v3h-1zM449 287h1v3h-1zM450 285h1v2h-1zM451 282h1v3h-1zM452 279h1v3h-1zM453 277h1v2h-1zM454 275h1v2h-1zM455 273h1v2h-1zM456 271h1v2h-1zM457 269h1v2h-1zM458 267h1v2h-1zM459 265h1v2h-1zM460 263h1v2h-1zM461 261h1v2h-1zM462 260h1v1h-1zM463 259h1v1h-1zM464 257h1v2h-1zM465 256h1v1h-1zM466 254h1v2h-1zM467 251h1v3h-1zM468 248h1v3h-1zM469 245h1v3h-1zM470 242h1v3h-1zM471 238h1v4h-1zM472 235h1v3h-1zM473 231h1v4h-1zM474 229h1v2h-1zM475 227h1v2h-1zM476 225h1v2h-1zM477 223h1v2h-1zM478 222h1v1h-1zM479 221h2v1h-2zM481 220h2v1h-2zM483 219h1v1h-1zM484 218h1v1h-1zM485 217h1v1h-1zM486 216h1v1h-1zM487 215h1v1h-1zM488 213h1v2h-1zM489 212h1v1h-1zM490 211h1v1h-1zM491 210h1v1h-1zM492 208h1v2h-1zM493 207h1v1h-1zM494 206h1v1h-1zM495 207h1v1h-1zM496 208h2v1h-2zM498 209h1v1h-1zM499 210h1v2h-1zM500 212h1v2h-1zM501 214h1v2h-1zM502 216h1v2h-1zM503 218h1v2h-1zM504 220h1v2h-1zM505 222h1v2h-1zM506 224h1v2h-1zM507 226h1v2h-1zM508 228h1v2h-1zM509 230h1v2h-1zM510 232h1v1h-1zM511 233h1v2h-1zM512 235h1v1h-1zM513 236h1v2h-1zM514 238h1v1h-1zM515 239h1v2h-1zM516 241h1v1h-1zM517 242h1v2h-1zM518 244h1v1h-1zM519 245h1v1h-1zM520 246h1v2h-1zM521 248h1v1h-1zM522 249h2v1h-2zM524 250h3v1h-3zM527 251h1v1h-1zM528 252h1v1h-1zM529 253h1v1h-1zM530 254h1v1h-1zM531 255h2v1h-2zM533 256h3v1h-3zM536 257h7v1h-7zM543 256h1v1h-1zM544 254h1v2h-1zM545 253h1v1h-1zM546 252h1v1h-1zM547 250h1v2h-1zM548 248h1v2h-1zM549 246h1v2h-1zM550 243h1v3h-1zM551 240h1v3h-1zM552 238h1v2h-1zM553 235h1v3h-1zM554 232h1v3h-1zM555 229h1v3h-1zM556 225h1v4h-1zM557 222h1v3h-1zM558 219h1v3h-1zM559 216h1v3h-1zM560 212h1v4h-1zM561 209h1v3h-1zM562 206h1v3h-1zM563 203h1v3h-1zM564 201h1v2h-1zM565 198h1v3h-1zM566 196h1v2h-1zM567 194h1v2h-1zM568 192h1v2h-1zM569 190h1v2h-1zM570 188h1v2h-1zM571 188h1v1h-1zM572 189h3v1h-3zM575 190h2v1h-2zM577 191h1v1h-1zM578 191h1v2h-1zM579 193h1v2h-1zM580 195h1v2h-1zM581 197h1v2h-1zM582 199h1v2h-1zM583 201h1v2h-1zM584 203h1v2h-1zM585 205h1v2h-1zM586 207h1v1h-1zM587 208h1v2h-1zM588 210h1v2h-1zM589 212h1v2h-1zM590 214h1v3h-1zM591 217h1v4h-1zM592 221h1v3h-1zM593 224h1v4h-1zM594 228h1v4h-1zM595 232h1v5h-1zM596 237h1v6h-1zM597 243h1v5h-1zM598 248h1v5h-1zM599 253h1v4h-1zM600 257h1v4h-1zM601 261h1v4h-1zM602 265h1v4h-1zM603 269h1v3h-1zM604 272h1v3h-1zM605 275h1v3h-1zM606 278h1v3h-1zM607 281h1v2h-1zM608 283h1v3h-1zM609 286h1v2h-1zM610 288h1v3h-1zM611 291h1v2h-1zM612 293h1v2h-1zM613 295h1v2h-1zM614 297h1v2h-1zM615 299h1v2h-1zM616 301h1v2h-1zM617 303h1v2h-1zM618 305h1v2h-1zM619 307h1v1h-1zM620 308h1v1h-1zM621 309h1v1h-1zM622 310h1v1h-1zM623 309h1v1h-1zM624 308h1v1h-1zM625 307h1v1h-1zM626 306h1v1h-1zM627 304h1v2h-1zM628 303h1v1h-1zM629 301h1v2h-1zM630 300h2v1h-2zM632 299h3v1h-3zM635 298h1v1h-1zM636 296h1v2h-1zM637 295h1v1h-1zM638 294h1v1h-1zM639 292h1v2h-1zM640 290h1v2h-1zM641 288h1v2h-1zM642 287h1v1h-1zM643 286h1v1h-1zM644 284h1v2h-1zM645 283h1v1h-1zM646 282h1v1h-1zM647 280h1v2h-1zM648 279h1v1h-1zM649 277h1v2h-1zM650 276h1v1h-1zM651 274h1v2h-1zM652 273h1v1h-1zM653 271h1v2h-1zM654 270h1v1h-1zM655 269h1v1h-1zM656 267h1v2h-1zM657 266h1v1h-1zM658 265h1v1h-1zM659 264h1v1h-1zM660 262h1v2h-1zM661 261h1v1h-1zM662 260h1v1h-1zM663 259h2v1h-2zM665 258h2v1h-2zM667 257h1v1h-1zM668 255h1v2h-1zM669 254h1v1h-1zM670 253h1v1h-1zM671 252h1v1h-1zM672 250h1v2h-1zM673 249h1v1h-1zM674 248h1v1h-1zM675 247h1v1h-1zM676 246h1v1h-1zM677 245h1v1h-1zM678 244h1v1h-1zM679 243h1v1h-1zM680 242h1v1h-1zM681 241h1v1h-1zM682 240h1v1h-1zM683 239h1v1h-1zM684 237h1v2h-1zM685 236h1v1h-1zM686 234h1v2h-1zM687 231h1v3h-1zM688 229h1v2h-1zM689 226h1v3h-1zM690 222h1v4h-1zM691 218h1v4h-1zM692 214h1v4h-1zM693 210h1v4h-1zM694 206h1v4h-1zM695 203h1v3h-1zM696 199h1v4h-1zM697 196h1v3h-1zM698 192h1v4h-1zM699 188h1v4h-1zM700 184h1v4h-1zM701 180h1v4h-1zM702 175h1v5h-1zM703 171h1v4h-1zM704 167h1v4h-1zM705 163h1v4h-1zM706 158h1v5h-1zM707 154h1v4h-1zM708 150h1v4h-1zM709 146h1v4h-1zM710 141h1v5h-1zM711 136h1v5h-1zM712 132h1v4h-1zM713 127h1v5h-1zM714 123h1v4h-1zM715 119h1v4h-1zM716 115h1v4h-1zM717 111h1v4h-1zM718 108h1v3h-1zM719 106h1v2h-1zM720 104h1v2h-1zM721 102h1v2h-1zM722 100h1v2h-1zM723 98h1v2h-1zM724 97h1v1h-1zM725 95h1v2h-1zM726 94h1v1h-1zM727 93h1v1h-1zM728 91h1v2h-1zM729 90h1v1h-1zM730 89h1v1h-1zM731 88h1v1h-1zM732 87h2v1h-2zM734 86h1v1h-1zM735 87h2v1h-2zM737 88h2v1h-2zM739 89h2v1h-2zM741 90h2v1h-2zM743 91h1v1h-1zM744 92h1v1h-1zM745 93h1v1h-1zM746 94h1v1h-1zM747 95h2v1h-2zM749 96h2v1h-2zM751 97h2v1h-2zM753 98h3v1h-3zM756 99h3v1h-3zM759 98h2v1h-2zM761 97h2v1h-2zM763 98h2v1h-2zM765 99h2v1h-2zM767 100h1v2h-1zM768 102h1v2h-1zM769 104h1v2h-1zM770 106h1v3h-1zM771 109h1v2h-1zM772 111h1v3h-1zM773 114h1v2h-1zM774 116h1v3h-1zM775 119h1v3h-1zM776 122h1v3h-1zM777 125h1v3h-1zM778 128h1v3h-1zM779 131h1v3h-1zM780 134h1v2h-1zM781 136h1v3h-1zM782 139h1v4h-1zM783 143h1v4h-1zM784 147h1v4h-1zM785 151h1v4h-1zM786 155h1v4h-1zM787 159h1v2h-1zM788 161h1v3h-1zM789 164h1v2h-1zM790 166h1v2h-1zM791 168h1v1h-1zM792 169h1v1h-1zM793 170h1v1h-1zM794 171h1v1h-1zM795 172h2v1h-2zM797 173h2v1h-2zM799 174h2v1h-2zM801 175h2v1h-2zM803 174h1v1h-1zM804 173h1v1h-1zM805 172h1v1h-1zM806 171h1v1h-1zM807 170h2v1h-2zM809 169h2v1h-2zM811 170h1v2h-1zM812 172h1v1h-1zM813 173h1v2h-1zM814 175h1v2h-1zM815 177h1v3h-1zM816 180h1v2h-1zM817 182h1v3h-1zM818 185h1v3h-1zM819 188h1v2h-1zM820 190h1v3h-1zM821 193h1v2h-1zM822 195h1v2h-1zM823 197h1v2h-1zM824 199h1v2h-1zM825 201h1v2h-1zM826 203h1v2h-1zM827 205h1v1h-1zM828 206h2v1h-2zM830 207h1v1h-1zM831 208h1v1h-1zM832 209h2v1h-2zM834 210h1v1h-1zM835 211h1v1h-1zM836 212h2v1h-2zM838 213h1v1h-1zM839 214h2v1h-2zM841 215h2v1h-2zM843 216h2v1h-2zM845 217h1v1h-1zM846 217h1v2h-1zM847 219h1v3h-1zM848 222h1v3h-1zM849 225h1v3h-1zM850 228h1v3h-1zM851 231h1v3h-1zM852 234h1v2h-1zM853 236h1v3h-1zM854 239h1v4h-1zM855 243h1v4h-1zM856 247h1v4h-1zM857 251h1v4h-1zM858 255h1v5h-1zM859 260h1v5h-1zM860 265h1v4h-1zM861 269h1v5h-1zM862 274h1v6h-1zM863 280h1v6h-1zM864 286h1v7h-1zM865 293h1v6h-1zM866 299h1v5h-1zM867 304h1v4h-1zM868 308h1v3h-1zM869 311h1v4h-1zM870 315h1v3h-1zM871 318h1v3h-1zM872 321h1v3h-1zM873 324h1v3h-1zM874 327h1v2h-1zM875 328h4v1h-4zM879 327h2v1h-2zM881 326h3v1h-3zM884 327h2v1h-2zM886 326h1v2h-1zM887 323h1v3h-1zM888 320h1v3h-1zM889 317h1v3h-1zM890 313h1v4h-1zM891 309h1v4h-1zM892 305h1v4h-1zM893 301h1v4h-1zM894 297h1v4h-1zM895 295h1v2h-1zM896 292h1v3h-1zM897 290h1v2h-1zM898 287h1v3h-1zM899 285h1v2h-1zM900 283h1v2h-1zM901 281h1v2h-1zM902 279h1v2h-1zM903 279h1v1h-1zM904 278h2v1h-2zM906 278h1v2h-1zM907 280h1v4h-1zM908 284h1v3h-1zM909 287h1v4h-1zM910 291h1v4h-1zM911 295h1v6h-1zM912 301h1v6h-1zM913 307h1v6h-1zM914 313h1v6h-1zM915 319h1v6h-1zM916 325h1v6h-1zM917 331h1v6h-1zM918 337h1v7h-1zM919 344h1v8h-1zM920 352h1v8h-1zM921 360h1v8h-1zM922 368h1v8h-1zM923 376h1v7h-1zM924 383h1v8h-1zM925 391h1v7h-1zM926 398h1v7h-1zM927 405h1v8h-1zM928 413h1v8h-1zM929 421h1v8h-1zM930 429h1v7h-1zM931 436h1v4h-1zM932 440h1v4h-1zM933 444h1v4h-1zM934 448h1v4h-1zM935 452h1v2h-1zM936 454h1v2h-1zM937 456h1v2h-1zM938 458h1v2h-1zM939 458h1v1h-1zM940 456h1v2h-1zM941 455h1v1h-1zM942 453h1v2h-1zM943 450h1v3h-1zM944 447h1v3h-1zM945 444h1v3h-1zM946 440h1v4h-1zM947 436h1v4h-1zM948 432h1v4h-1zM949 428h1v4h-1zM950 424h1v4h-1zM951 420h1v4h-1zM952 416h1v4h-1zM953 412h1v4h-1zM954 409h1v3h-1zM955 406h1v3h-1zM956 402h1v4h-1zM957 399h1v3h-1zM958 396h1v3h-1zM959 392h1v4h-1zM960 388h1v4h-1zM961 384h1v4h-1zM962 380h1v4h-1zM963 374h1v6h-1zM964 369h1v5h-1zM965 363h1v6h-1zM966 359h1v4h-1zM967 356h1v3h-1zM968 352h1v4h-1zM969 349h1v3h-1zM970 347h1v2h-1zM971 345h1v2h-1zM972 343h1v2h-1zM973 341h1v2h-1zM974 340h1v1h-1zM975 339h1v1h-1zM976 338h1v1h-1zM977 337h1v1h-1zM978 336h1v1h-1zM979 335h1v1h-1zM980 333h1v2h-1zM981 332h1v1h-1zM982 331h2v1h-2zM984 332h2v1h-2zM986 332h1v2h-1zM987 334h1v2h-1zM988 336h1v2h-1zM989 338h1v2h-1zM990 340h1v2h-1zM991 342h1v2h-1zM992 344h1v2h-1zM993 346h1v2h-1zM994 348h1v3h-1zM995 351h1v2h-1zM996 353h1v2h-1zM997 355h1v2h-1zM998 357h1v2h-1zM999 359h1v2h-1zM1000 361h1v2h-1zM1001 363h1v2h-1zM1002 365h1v3h-1zM1003 368h1v2h-1zM1004 370h1v2h-1zM1005 372h1v2h-1zM1006 374h1v2h-1zM1007 376h1v2h-1zM1008 378h1v1h-1zM1009 379h1v2h-1zM1010 381h1v1h-1zM1011 382h2v1h-2zM1013 383h2v1h-2zM1015 384h2v1h-2zM1017 385h3v1h-3zM1020 384h3v1h-3zM1023 385h1v1h-1zM1024 386h1v1h-1zM1025 387h1v1h-1zM1026 388h1v1h-1zM1027 386h1v2h-1zM1028 384h1v2h-1zM1029 382h1v2h-1zM1030 379h1v3h-1zM1031 375h1v4h-1zM1032 371h1v4h-1zM1033 367h1v4h-1zM1034 363h1v4h-1zM1035 360h1v3h-1zM1036 356h1v4h-1zM1037 353h1v3h-1zM1038 350h1v3h-1zM1039 348h1v2h-1zM1040 345h1v3h-1zM1041 343h1v2h-1zM1042 340h1v3h-1zM1043 338h1v2h-1zM1044 336h1v2h-1zM1045 334h1v2h-1zM1046 332h1v2h-1zM1047 330h1v2h-1zM1048 328h1v2h-1zM1049 326h1v2h-1zM1050 324h1v2h-1zM1051 323h1v1h-1zM1052 322h1v1h-1zM1053 321h1v1h-1zM1054 320h1v1h-1zM1055 321h1v2h-1zM1056 323h1v2h-1zM1057 325h1v2h-1zM1058 327h1v4h-1zM1059 331h1v4h-1zM1060 335h1v4h-1zM1061 339h1v4h-1zM1062 343h1v5h-1zM1063 348h1v5h-1zM1064 353h1v6h-1zM1065 359h1v5h-1zM1066 364h1v6h-1zM1067 370h1v6h-1zM1068 376h1v7h-1zM1069 383h1v6h-1zM1070 389h1v6h-1zM1071 395h1v5h-1zM1072 400h1v6h-1zM1073 406h1v5h-1zM1074 411h1v5h-1zM1075 416h1v6h-1zM1076 422h1v5h-1zM1077 427h1v6h-1zM1078 433h1v5h-1zM1079 438h1v4h-1zM1080 442h1v5h-1zM1081 447h1v4h-1zM1082 451h1v5h-1zM1083 456h1v4h-1zM1084 460h1v5h-1zM1085 465h1v4h-1zM1086 469h1v4h-1zM1087 473h1v3h-1zM1088 476h1v4h-1zM1089 480h1v3h-1zM1090 483h1v2h-1zM1091 482h1v2h-1zM1092 481h1v1h-1zM1093 479h1v2h-1zM1094 478h1v1h-1zM1095 479h2v1h-2zM1097 480h2v1h-2zM1099 479h2v1h-2zM1101 478h2v1h-2zM1103 477h1v1h-1zM1104 475h1v2h-1zM1105 474h1v1h-1zM1106 472h1v2h-1zM1107 470h1v2h-1zM1108 468h1v2h-1zM1109 466h1v2h-1zM1110 463h1v3h-1zM1111 460h1v3h-1zM1112 457h1v3h-1zM1113 454h1v3h-1zM1114 451h1v3h-1zM1115 448h1v3h-1zM1116 444h1v4h-1zM1117 441h1v3h-1zM1118 438h1v3h-1zM1119 436h1v2h-1zM1120 434h1v2h-1zM1121 432h1v2h-1zM1122 430h1v2h-1zM1123 428h1v2h-1zM1124 427h1v1h-1zM1125 425h1v2h-1zM1126 424h1v1h-1z"/>
<rect x="2" y="149" width="1415" height="3" fill="#ff0000" />
<rect x="2" y="242" width="1415" height="3" fill="#ff0000" />
<rect x="2" y="420" width="1415" height="3" fill="#00ff00" />
<rect x="2" y="505" width="1415" height="3" fill="#0000ff" />
<rect x="1" y="418" width="7" height="7" fill="#00ff00" />
<rect x="4" y="421" width="1" height="1" fill="#fff" />
<rect x="1411" y="418" width="7" height="7" fill="#00ff00" />
<rect x="1414" y="421" width="1" height="1" fill="#fff" />
<rect x="1419" y="144" width="41" height="11" fill="#ff0000" />
<text x="1424" y="152.8" font-size="9.3" fill="#fff" stroke="#fff" stroke-width="0.1" text-anchor="start" textLength="32.5" lengthAdjust="spacingAndGlyphs" >1.01205</text>
<rect x="1419" y="237" width="41" height="11" fill="#ff0000" />
<text x="1424" y="245.8" font-size="9.3" fill="#fff" stroke="#fff" stroke-width="0.1" text-anchor="start" textLength="32.5" lengthAdjust="spacingAndGlyphs" >1.00106</text>
<rect x="1419" y="396" width="41" height="11" fill="#000000" />
<text x="1424" y="404.8" font-size="9.3" fill="#fff" stroke="#fff" stroke-width="0.1" text-anchor="start" textLength="32.5" lengthAdjust="spacingAndGlyphs" >0.98238</text>
<rect x="1419" y="415" width="41" height="11" fill="#00ff00" />
<text x="1424" y="423.8" font-size="9.3" fill="#fff" stroke="#fff" stroke-width="0.1" text-anchor="start" textLength="32.5" lengthAdjust="spacingAndGlyphs" >0.98000</text>
<rect x="1419" y="500" width="41" height="11" fill="#0000ff" />
<text x="1424" y="508.8" font-size="9.3" fill="#fff" stroke="#fff" stroke-width="0.1" text-anchor="start" textLength="32.5" lengthAdjust="spacingAndGlyphs" >0.97001</text>
<polygon points="1128,25 1138,25 1133,30" fill="#c0c0c0" shape-rendering="auto"/>
<polygon points="5,31.5 12.5,31.5 8.75,35.6" fill="#000" shape-rendering="auto"/>
<text x="17.2" y="36" font-size="9.6" fill="#000" stroke="#000" stroke-width="0.1" text-anchor="start" textLength="67" lengthAdjust="spacingAndGlyphs" >USDCHF-,Daily</text>
<text x="91" y="36" font-size="9.6" fill="#000" stroke="#000" stroke-width="0.1" text-anchor="start" textLength="32.6" lengthAdjust="spacingAndGlyphs" >0.98204</text>
<text x="127.4" y="36" font-size="9.6" fill="#000" stroke="#000" stroke-width="0.1" text-anchor="start" textLength="32.6" lengthAdjust="spacingAndGlyphs" >0.98296</text>
<text x="163.3" y="36" font-size="9.6" fill="#000" stroke="#000" stroke-width="0.1" text-anchor="start" textLength="32.6" lengthAdjust="spacingAndGlyphs" >0.98200</text>
<text x="199" y="36" font-size="9.6" fill="#000" stroke="#000" stroke-width="0.1" text-anchor="start" textLength="32.6" lengthAdjust="spacingAndGlyphs" >0.98238</text>
<rect x="2" y="612" width="1" height="23" fill="#c0c0c0" />
<rect x="6" y="612" width="1" height="13" fill="#c0c0c0" />
<rect x="10" y="612" width="1" height="5" fill="#c0c0c0" />
<rect x="14" y="610" width="1" height="3" fill="#c0c0c0" />
<rect x="18" y="603" width="1" height="10" fill="#c0c0c0" />
<rect x="22" y="594" width="1" height="19" fill="#c0c0c0" />
<rect x="26" y="587" width="1" height="26" fill="#c0c0c0" />
<rect x="30" y="582" width="1" height="31" fill="#c0c0c0" />
<rect x="34" y="579" width="1" height="34" fill="#c0c0c0" />
<rect x="38" y="578" width="1" height="35" fill="#c0c0c0" />
<rect x="42" y="578" width="1" height="35" fill="#c0c0c0" />
<rect x="46" y="578" width="1" height="35" fill="#c0c0c0" />
<rect x="50" y="578" width="1" height="35" fill="#c0c0c0" />
<rect x="54" y="578" width="1" height="35" fill="#c0c0c0" />
<rect x="58" y="578" width="1" height="35" fill="#c0c0c0" />
<rect x="62" y="578" width="1" height="35" fill="#c0c0c0" />
<rect x="66" y="578" width="1" height="35" fill="#c0c0c0" />
<rect x="70" y="578" width="1" height="35" fill="#c0c0c0" />
<rect x="74" y="578" width="1" height="35" fill="#c0c0c0" />
<rect x="78" y="578" width="1" height="35" fill="#c0c0c0" />
<rect x="82" y="578" width="1" height="35" fill="#c0c0c0" />
<rect x="86" y="578" width="1" height="35" fill="#c0c0c0" />
<rect x="90" y="578" width="1" height="35" fill="#c0c0c0" />
<rect x="94" y="578" width="1" height="35" fill="#c0c0c0" />
<rect x="98" y="578" width="1" height="35" fill="#c0c0c0" />
<rect x="102" y="578" width="1" height="35" fill="#c0c0c0" />
<rect x="106" y="578" width="1" height="35" fill="#c0c0c0" />
<rect x="110" y="578" width="1" height="35" fill="#c0c0c0" />
<rect x="114" y="578" width="1" height="35" fill="#c0c0c0" />
<rect x="118" y="578" width="1" height="35" fill="#c0c0c0" />
<rect x="122" y="578" width="1" height="35" fill="#c0c0c0" />
<rect x="126" y="578" width="1" height="35" fill="#c0c0c0" />
<rect x="130" y="578" width="1" height="35" fill="#c0c0c0" />
<rect x="134" y="578" width="1" height="35" fill="#c0c0c0" />
<rect x="138" y="579" width="1" height="34" fill="#c0c0c0" />
<rect x="142" y="580" width="1" height="33" fill="#c0c0c0" />
<rect x="146" y="581" width="1" height="32" fill="#c0c0c0" />
<rect x="150" y="581" width="1" height="32" fill="#c0c0c0" />
<rect x="154" y="581" width="1" height="32" fill="#c0c0c0" />
<rect x="158" y="581" width="1" height="32" fill="#c0c0c0" />
<rect x="162" y="581" width="1" height="32" fill="#c0c0c0" />
<rect x="166" y="582" width="1" height="31" fill="#c0c0c0" />
<rect x="170" y="584" width="1" height="29" fill="#c0c0c0" />
<rect x="174" y="589" width="1" height="24" fill="#c0c0c0" />
<rect x="178" y="594" width="1" height="19" fill="#c0c0c0" />
<rect x="182" y="601" width="1" height="12" fill="#c0c0c0" />
<rect x="186" y="606" width="1" height="7" fill="#c0c0c0" />
<rect x="190" y="610" width="1" height="3" fill="#c0c0c0" />
<rect x="194" y="612" width="1" height="1" fill="#c0c0c0" />
<rect x="198" y="612" width="1" height="1" fill="#c0c0c0" />
<rect x="202" y="612" width="1" height="1" fill="#c0c0c0" />
<rect x="206" y="612" width="1" height="1" fill="#c0c0c0" />
<rect x="210" y="612" width="1" height="2" fill="#c0c0c0" />
<rect x="214" y="612" width="1" height="6" fill="#c0c0c0" />
<rect x="218" y="612" width="1" height="7" fill="#c0c0c0" />
<rect x="222" y="612" width="1" height="4" fill="#c0c0c0" />
<rect x="226" y="612" width="1" height="4" fill="#c0c0c0" />
<rect x="230" y="612" width="1" height="4" fill="#c0c0c0" />
<rect x="234" y="612" width="1" height="4" fill="#c0c0c0" />
<rect x="238" y="612" width="1" height="5" fill="#c0c0c0" />
<rect x="242" y="612" width="1" height="7" fill="#c0c0c0" />
<rect x="246" y="612" width="1" height="10" fill="#c0c0c0" />
<rect x="250" y="612" width="1" height="14" fill="#c0c0c0" />
<rect x="254" y="612" width="1" height="15" fill="#c0c0c0" />
<rect x="258" y="612" width="1" height="15" fill="#c0c0c0" />
<rect x="262" y="612" width="1" height="14" fill="#c0c0c0" />
<rect x="266" y="612" width="1" height="12" fill="#c0c0c0" />
<rect x="270" y="612" width="1" height="10" fill="#c0c0c0" />
<rect x="274" y="612" width="1" height="8" fill="#c0c0c0" />
<rect x="278" y="612" width="1" height="9" fill="#c0c0c0" />
<rect x="282" y="612" width="1" height="10" fill="#c0c0c0" />
<rect x="286" y="612" width="1" height="11" fill="#c0c0c0" />
<rect x="290" y="612" width="1" height="11" fill="#c0c0c0" />
<rect x="294" y="612" width="1" height="11" fill="#c0c0c0" />
<rect x="298" y="612" width="1" height="12" fill="#c0c0c0" />
<rect x="302" y="612" width="1" height="13" fill="#c0c0c0" />
<rect x="306" y="612" width="1" height="15" fill="#c0c0c0" />
<rect x="310" y="612" width="1" height="14" fill="#c0c0c0" />
<rect x="314" y="612" width="1" height="15" fill="#c0c0c0" />
<rect x="318" y="612" width="1" height="17" fill="#c0c0c0" />
<rect x="322" y="612" width="1" height="20" fill="#c0c0c0" />
<rect x="326" y="612" width="1" height="23" fill="#c0c0c0" />
<rect x="330" y="612" width="1" height="25" fill="#c0c0c0" />
<rect x="334" y="612" width="1" height="22" fill="#c0c0c0" />
<rect x="338" y="612" width="1" height="20" fill="#c0c0c0" />
<rect x="342" y="612" width="1" height="19" fill="#c0c0c0" />
<rect x="346" y="612" width="1" height="19" fill="#c0c0c0" />
<rect x="350" y="612" width="1" height="21" fill="#c0c0c0" />
<rect x="354" y="612" width="1" height="23" fill="#c0c0c0" />
<rect x="358" y="612" width="1" height="29" fill="#c0c0c0" />
<rect x="362" y="612" width="1" height="26" fill="#c0c0c0" />
<rect x="366" y="612" width="1" height="24" fill="#c0c0c0" />
<rect x="370" y="612" width="1" height="23" fill="#c0c0c0" />
<rect x="374" y="612" width="1" height="23" fill="#c0c0c0" />
<rect x="378" y="612" width="1" height="18" fill="#c0c0c0" />
<rect x="382" y="612" width="1" height="12" fill="#c0c0c0" />
<rect x="386" y="612" width="1" height="7" fill="#c0c0c0" />
<rect x="390" y="612" width="1" height="2" fill="#c0c0c0" />
<rect x="394" y="609" width="1" height="4" fill="#c0c0c0" />
<rect x="398" y="604" width="1" height="9" fill="#c0c0c0" />
<rect x="402" y="601" width="1" height="12" fill="#c0c0c0" />
<rect x="406" y="600" width="1" height="13" fill="#c0c0c0" />
<rect x="410" y="598" width="1" height="15" fill="#c0c0c0" />
<rect x="414" y="599" width="1" height="14" fill="#c0c0c0" />
<rect x="418" y="600" width="1" height="13" fill="#c0c0c0" />
<rect x="422" y="602" width="1" height="11" fill="#c0c0c0" />
<rect x="426" y="601" width="1" height="12" fill="#c0c0c0" />
<rect x="430" y="600" width="1" height="13" fill="#c0c0c0" />
<rect x="434" y="601" width="1" height="12" fill="#c0c0c0" />
<rect x="438" y="601" width="1" height="12" fill="#c0c0c0" />
<rect x="442" y="601" width="1" height="12" fill="#c0c0c0" />
<rect x="446" y="600" width="1" height="13" fill="#c0c0c0" />
<rect x="450" y="597" width="1" height="16" fill="#c0c0c0" />
<rect x="454" y="595" width="1" height="18" fill="#c0c0c0" />
<rect x="458" y="592" width="1" height="21" fill="#c0c0c0" />
<rect x="462" y="592" width="1" height="21" fill="#c0c0c0" />
<rect x="466" y="593" width="1" height="20" fill="#c0c0c0" />
<rect x="470" y="591" width="1" height="22" fill="#c0c0c0" />
<rect x="474" y="588" width="1" height="25" fill="#c0c0c0" />
<rect x="478" y="585" width="1" height="28" fill="#c0c0c0" />
<rect x="482" y="585" width="1" height="28" fill="#c0c0c0" />
<rect x="486" y="585" width="1" height="28" fill="#c0c0c0" />
<rect x="490" y="586" width="1" height="27" fill="#c0c0c0" />
<rect x="494" y="588" width="1" height="25" fill="#c0c0c0" />
<rect x="498" y="591" width="1" height="22" fill="#c0c0c0" />
<rect x="502" y="593" width="1" height="20" fill="#c0c0c0" />
<rect x="506" y="596" width="1" height="17" fill="#c0c0c0" />
<rect x="510" y="598" width="1" height="15" fill="#c0c0c0" />
<rect x="514" y="600" width="1" height="13" fill="#c0c0c0" />
<rect x="518" y="602" width="1" height="11" fill="#c0c0c0" />
<rect x="522" y="604" width="1" height="9" fill="#c0c0c0" />
<rect x="526" y="604" width="1" height="9" fill="#c0c0c0" />
<rect x="530" y="607" width="1" height="6" fill="#c0c0c0" />
<rect x="534" y="608" width="1" height="5" fill="#c0c0c0" />
<rect x="538" y="610" width="1" height="3" fill="#c0c0c0" />
<rect x="542" y="610" width="1" height="3" fill="#c0c0c0" />
<rect x="546" y="608" width="1" height="5" fill="#c0c0c0" />
<rect x="550" y="605" width="1" height="8" fill="#c0c0c0" />
<rect x="554" y="601" width="1" height="12" fill="#c0c0c0" />
<rect x="558" y="599" width="1" height="14" fill="#c0c0c0" />
<rect x="562" y="598" width="1" height="15" fill="#c0c0c0" />
<rect x="566" y="595" width="1" height="18" fill="#c0c0c0" />
<rect x="570" y="595" width="1" height="18" fill="#c0c0c0" />
<rect x="574" y="598" width="1" height="15" fill="#c0c0c0" />
<rect x="578" y="600" width="1" height="13" fill="#c0c0c0" />
<rect x="582" y="602" width="1" height="11" fill="#c0c0c0" />
<rect x="586" y="604" width="1" height="9" fill="#c0c0c0" />
<rect x="590" y="606" width="1" height="7" fill="#c0c0c0" />
<rect x="594" y="610" width="1" height="3" fill="#c0c0c0" />
<rect x="598" y="612" width="1" height="5" fill="#c0c0c0" />
<rect x="602" y="612" width="1" height="10" fill="#c0c0c0" />
<rect x="606" y="612" width="1" height="12" fill="#c0c0c0" />
<rect x="610" y="612" width="1" height="14" fill="#c0c0c0" />
<rect x="614" y="612" width="1" height="16" fill="#c0c0c0" />
<rect x="618" y="612" width="1" height="18" fill="#c0c0c0" />
<rect x="622" y="612" width="1" height="18" fill="#c0c0c0" />
<rect x="626" y="612" width="1" height="17" fill="#c0c0c0" />
<rect x="630" y="612" width="1" height="15" fill="#c0c0c0" />
<rect x="634" y="612" width="1" height="14" fill="#c0c0c0" />
<rect x="638" y="612" width="1" height="12" fill="#c0c0c0" />
<rect x="642" y="612" width="1" height="10" fill="#c0c0c0" />
<rect x="646" y="612" width="1" height="9" fill="#c0c0c0" />
<rect x="650" y="612" width="1" height="7" fill="#c0c0c0" />
<rect x="654" y="612" width="1" height="5" fill="#c0c0c0" />
<rect x="658" y="612" width="1" height="4" fill="#c0c0c0" />
<rect x="662" y="612" width="1" height="3" fill="#c0c0c0" />
<rect x="666" y="612" width="1" height="2" fill="#c0c0c0" />
<rect x="670" y="612" width="1" height="2" fill="#c0c0c0" />
<rect x="674" y="610" width="1" height="3" fill="#c0c0c0" />
<rect x="678" y="608" width="1" height="5" fill="#c0c0c0" />
<rect x="682" y="607" width="1" height="6" fill="#c0c0c0" />
<rect x="686" y="606" width="1" height="7" fill="#c0c0c0" />
<rect x="690" y="602" width="1" height="11" fill="#c0c0c0" />
<rect x="694" y="598" width="1" height="15" fill="#c0c0c0" />
<rect x="698" y="592" width="1" height="21" fill="#c0c0c0" />
<rect x="702" y="589" width="1" height="24" fill="#c0c0c0" />
<rect x="706" y="585" width="1" height="28" fill="#c0c0c0" />
<rect x="710" y="580" width="1" height="33" fill="#c0c0c0" />
<rect x="714" y="577" width="1" height="36" fill="#c0c0c0" />
<rect x="718" y="574" width="1" height="39" fill="#c0c0c0" />
<rect x="722" y="573" width="1" height="40" fill="#c0c0c0" />
<rect x="726" y="573" width="1" height="40" fill="#c0c0c0" />
<rect x="730" y="573" width="1" height="40" fill="#c0c0c0" />
<rect x="734" y="574" width="1" height="39" fill="#c0c0c0" />
<rect x="738" y="574" width="1" height="39" fill="#c0c0c0" />
<rect x="742" y="576" width="1" height="37" fill="#c0c0c0" />
<rect x="746" y="579" width="1" height="34" fill="#c0c0c0" />
<rect x="750" y="582" width="1" height="31" fill="#c0c0c0" />
<rect x="754" y="584" width="1" height="29" fill="#c0c0c0" />
<rect x="758" y="584" width="1" height="29" fill="#c0c0c0" />
<rect x="762" y="584" width="1" height="29" fill="#c0c0c0" />
<rect x="766" y="588" width="1" height="25" fill="#c0c0c0" />
<rect x="770" y="593" width="1" height="20" fill="#c0c0c0" />
<rect x="774" y="598" width="1" height="15" fill="#c0c0c0" />
<rect x="778" y="605" width="1" height="8" fill="#c0c0c0" />
<rect x="782" y="609" width="1" height="4" fill="#c0c0c0" />
<rect x="786" y="612" width="1" height="1" fill="#c0c0c0" />
<rect x="790" y="612" width="1" height="2" fill="#c0c0c0" />
<rect x="794" y="612" width="1" height="2" fill="#c0c0c0" />
<rect x="798" y="612" width="1" height="3" fill="#c0c0c0" />
<rect x="802" y="612" width="1" height="4" fill="#c0c0c0" />
<rect x="806" y="612" width="1" height="4" fill="#c0c0c0" />
<rect x="810" y="612" width="1" height="5" fill="#c0c0c0" />
<rect x="814" y="612" width="1" height="10" fill="#c0c0c0" />
<rect x="818" y="612" width="1" height="14" fill="#c0c0c0" />
<rect x="822" y="612" width="1" height="16" fill="#c0c0c0" />
<rect x="826" y="612" width="1" height="16" fill="#c0c0c0" />
<rect x="830" y="612" width="1" height="15" fill="#c0c0c0" />
<rect x="834" y="612" width="1" height="14" fill="#c0c0c0" />
<rect x="838" y="612" width="1" height="14" fill="#c0c0c0" />
<rect x="842" y="612" width="1" height="15" fill="#c0c0c0" />
<rect x="846" y="612" width="1" height="19" fill="#c0c0c0" />
<rect x="850" y="612" width="1" height="25" fill="#c0c0c0" />
<rect x="854" y="612" width="1" height="29" fill="#c0c0c0" />
<rect x="858" y="612" width="1" height="31" fill="#c0c0c0" />
<rect x="862" y="612" width="1" height="33" fill="#c0c0c0" />
<rect x="866" y="612" width="1" height="38" fill="#c0c0c0" />
<rect x="870" y="612" width="1" height="40" fill="#c0c0c0" />
<rect x="874" y="612" width="1" height="40" fill="#c0c0c0" />
<rect x="878" y="612" width="1" height="39" fill="#c0c0c0" />
<rect x="882" y="612" width="1" height="36" fill="#c0c0c0" />
<rect x="886" y="612" width="1" height="34" fill="#c0c0c0" />
<rect x="890" y="612" width="1" height="29" fill="#c0c0c0" />
<rect x="894" y="612" width="1" height="25" fill="#c0c0c0" />
<rect x="898" y="612" width="1" height="21" fill="#c0c0c0" />
<rect x="902" y="612" width="1" height="17" fill="#c0c0c0" />
<rect x="906" y="612" width="1" height="19" fill="#c0c0c0" />
<rect x="910" y="612" width="1" height="26" fill="#c0c0c0" />
<rect x="914" y="612" width="1" height="33" fill="#c0c0c0" />
<rect x="918" y="612" width="1" height="41" fill="#c0c0c0" />
<rect x="922" y="612" width="1" height="48" fill="#c0c0c0" />
<rect x="926" y="612" width="1" height="50" fill="#c0c0c0" />
<rect x="930" y="612" width="1" height="51" fill="#c0c0c0" />
<rect x="934" y="612" width="1" height="52" fill="#c0c0c0" />
<rect x="938" y="612" width="1" height="51" fill="#c0c0c0" />
<rect x="942" y="612" width="1" height="47" fill="#c0c0c0" />
<rect x="946" y="612" width="1" height="42" fill="#c0c0c0" />
<rect x="950" y="612" width="1" height="36" fill="#c0c0c0" />
<rect x="954" y="612" width="1" height="32" fill="#c0c0c0" />
<rect x="958" y="612" width="1" height="28" fill="#c0c0c0" />
<rect x="962" y="612" width="1" height="22" fill="#c0c0c0" />
<rect x="966" y="612" width="1" height="16" fill="#c0c0c0" />
<rect x="970" y="612" width="1" height="11" fill="#c0c0c0" />
<rect x="974" y="612" width="1" height="6" fill="#c0c0c0" />
<rect x="978" y="612" width="1" height="5" fill="#c0c0c0" />
<rect x="982" y="612" width="1" height="4" fill="#c0c0c0" />
<rect x="986" y="612" width="1" height="5" fill="#c0c0c0" />
<rect x="990" y="612" width="1" height="8" fill="#c0c0c0" />
<rect x="994" y="612" width="1" height="9" fill="#c0c0c0" />
<rect x="998" y="612" width="1" height="8" fill="#c0c0c0" />
<rect x="1002" y="612" width="1" height="7" fill="#c0c0c0" />
<rect x="1006" y="612" width="1" height="8" fill="#c0c0c0" />
<rect x="1010" y="612" width="1" height="10" fill="#c0c0c0" />
<rect x="1014" y="612" width="1" height="12" fill="#c0c0c0" />
<rect x="1018" y="612" width="1" height="12" fill="#c0c0c0" />
<rect x="1022" y="612" width="1" height="11" fill="#c0c0c0" />
<rect x="1026" y="612" width="1" height="9" fill="#c0c0c0" />
<rect x="1030" y="612" width="1" height="6" fill="#c0c0c0" />
<rect x="1034" y="612" width="1" height="2" fill="#c0c0c0" />
<rect x="1038" y="610" width="1" height="3" fill="#c0c0c0" />
<rect x="1042" y="608" width="1" height="5" fill="#c0c0c0" />
<rect x="1046" y="608" width="1" height="5" fill="#c0c0c0" />
<rect x="1050" y="606" width="1" height="7" fill="#c0c0c0" />
<rect x="1054" y="606" width="1" height="7" fill="#c0c0c0" />
<rect x="1058" y="611" width="1" height="2" fill="#c0c0c0" />
<rect x="1062" y="612" width="1" height="2" fill="#c0c0c0" />
<rect x="1066" y="612" width="1" height="12" fill="#c0c0c0" />
<rect x="1070" y="612" width="1" height="16" fill="#c0c0c0" />
<rect x="1074" y="612" width="1" height="20" fill="#c0c0c0" />
<rect x="1078" y="612" width="1" height="24" fill="#c0c0c0" />
<rect x="1082" y="612" width="1" height="27" fill="#c0c0c0" />
<rect x="1086" y="612" width="1" height="30" fill="#c0c0c0" />
<rect x="1090" y="612" width="1" height="33" fill="#c0c0c0" />
<rect x="1094" y="612" width="1" height="31" fill="#c0c0c0" />
<rect x="1098" y="612" width="1" height="30" fill="#c0c0c0" />
<rect x="1102" y="612" width="1" height="28" fill="#c0c0c0" />
<rect x="1106" y="612" width="1" height="25" fill="#c0c0c0" />
<rect x="1110" y="612" width="1" height="22" fill="#c0c0c0" />
<rect x="1114" y="612" width="1" height="19" fill="#c0c0c0" />
<rect x="1118" y="612" width="1" height="16" fill="#c0c0c0" />
<rect x="1122" y="612" width="1" height="13" fill="#c0c0c0" />
<rect x="1126" y="612" width="1" height="10" fill="#c0c0c0" />
<path fill="#ff0000" d="M2 648h1v1h-1zM3 647h1v1h-1zM4 646h1v1h-1zM7 642h1v1h-1zM8 641h1v1h-1zM9 640h1v1h-1zM13 637h1v1h-1zM14 636h1v1h-1zM15 635h1v1h-1zM17 631h1v1h-1zM18 630h1v1h-1zM19 629h1v1h-1zM21 624h1v2h-1zM22 623h1v1h-1zM25 618h1v2h-1zM26 617h1v1h-1zM29 612h1v2h-1zM30 611h1v1h-1zM32 605h1v3h-1zM34 601h1v1h-1zM35 599h1v2h-1zM38 594h1v2h-1zM39 593h1v1h-1zM43 589h1v1h-1zM44 588h1v1h-1zM45 587h1v1h-1zM49 584h1v1h-1zM50 583h1v1h-1zM51 582h1v1h-1zM55 580h2v1h-2zM57 579h1v1h-1zM61 578h3v1h-3zM67 577h2v1h-2zM69 576h1v1h-1zM73 576h3v1h-3zM79 576h3v1h-3zM85 576h3v1h-3zM91 576h1v1h-1zM92 575h2v1h-2zM97 575h3v1h-3zM103 575h3v1h-3zM109 575h3v1h-3zM115 576h3v1h-3zM121 576h3v1h-3zM127 576h3v1h-3zM133 576h3v1h-3zM139 576h3v1h-3zM145 576h2v1h-2zM147 577h1v1h-1zM151 577h3v1h-3zM157 578h3v1h-3zM163 579h3v1h-3zM169 579h1v1h-1zM170 580h2v1h-2zM175 581h2v1h-2zM177 582h1v1h-1zM181 584h1v1h-1zM182 585h1v1h-1zM183 586h1v1h-1zM187 588h1v1h-1zM188 589h1v1h-1zM189 590h1v1h-1zM193 593h1v1h-1zM194 594h1v1h-1zM195 595h1v1h-1zM199 599h1v1h-1zM200 600h1v1h-1zM201 601h1v1h-1zM205 605h1v1h-1zM206 606h1v1h-1zM207 607h1v1h-1zM211 609h2v1h-2zM213 610h1v1h-1zM217 612h1v1h-1zM218 613h2v1h-2zM223 614h3v1h-3zM229 614h2v1h-2zM231 615h1v1h-1zM235 615h3v1h-3zM241 616h2v1h-2zM243 617h1v1h-1zM247 618h3v1h-3zM253 619h3v1h-3zM259 620h1v1h-1zM260 621h2v1h-2zM265 622h3v1h-3zM271 623h3v1h-3zM277 623h3v1h-3zM283 623h3v1h-3zM289 622h3v1h-3zM295 620h3v1h-3zM301 621h3v1h-3zM307 622h3v1h-3zM313 623h3v1h-3zM319 624h1v1h-1zM320 625h2v1h-2zM325 626h3v1h-3zM331 627h1v1h-1zM332 628h2v1h-2zM337 629h1v1h-1zM338 630h2v1h-2zM343 630h3v1h-3zM349 631h1v1h-1zM350 632h2v1h-2zM355 633h2v1h-2zM357 634h1v1h-1zM361 634h3v1h-3zM367 634h3v1h-3zM373 634h3v1h-3zM379 634h1v1h-1zM380 633h2v1h-2zM385 631h2v1h-2zM387 630h1v1h-1zM391 628h2v1h-2zM393 627h1v1h-1zM397 623h1v1h-1zM398 622h1v1h-1zM399 621h1v1h-1zM403 617h1v1h-1zM404 616h1v1h-1zM405 615h1v1h-1zM409 611h1v1h-1zM410 610h1v1h-1zM411 609h1v1h-1zM415 606h1v1h-1zM416 605h1v1h-1zM417 604h1v1h-1zM421 602h1v1h-1zM422 601h2v1h-2zM427 600h3v1h-3zM433 600h3v1h-3zM439 599h3v1h-3zM445 599h3v1h-3zM451 599h2v1h-2zM453 598h1v1h-1zM457 598h3v1h-3zM463 597h2v1h-2zM465 596h1v1h-1zM469 594h3v1h-3zM475 592h3v1h-3zM481 590h2v1h-2zM483 589h1v1h-1zM487 587h3v1h-3zM493 587h3v1h-3zM499 587h3v1h-3zM505 587h3v1h-3zM511 587h1v1h-1zM512 588h2v1h-2zM517 591h1v1h-1zM518 592h2v1h-2zM523 594h1v1h-1zM524 595h2v1h-2zM529 597h1v1h-1zM530 598h2v1h-2zM535 600h1v1h-1zM536 601h2v1h-2zM541 603h2v1h-2zM543 604h1v1h-1zM547 606h3v1h-3zM553 606h3v1h-3zM559 604h3v1h-3zM565 603h3v1h-3zM571 601h2v1h-2zM573 600h1v1h-1zM577 599h2v1h-2zM579 598h1v1h-1zM583 598h3v1h-3zM589 598h1v1h-1zM590 599h2v1h-2zM595 601h2v1h-2zM597 602h1v1h-1zM601 604h1v1h-1zM602 605h1v1h-1zM603 606h1v1h-1zM607 608h1v1h-1zM608 609h1v1h-1zM609 610h1v1h-1zM613 614h1v1h-1zM614 615h1v1h-1zM615 616h1v1h-1zM619 618h2v1h-2zM621 619h1v1h-1zM625 622h2v1h-2zM627 623h1v1h-1zM631 624h1v1h-1zM632 625h2v1h-2zM637 626h3v1h-3zM643 626h3v1h-3zM649 625h1v1h-1zM650 624h2v1h-2zM655 623h1v1h-1zM656 622h2v1h-2zM661 620h2v1h-2zM663 619h1v1h-1zM667 618h2v1h-2zM669 617h1v1h-1zM673 615h2v1h-2zM675 614h1v1h-1zM679 613h2v1h-2zM681 612h1v1h-1zM685 611h2v1h-2zM687 610h1v1h-1zM691 608h2v1h-2zM693 607h1v1h-1zM697 605h1v1h-1zM698 604h2v1h-2zM703 601h1v1h-1zM704 600h1v1h-1zM705 599h1v1h-1zM709 596h1v1h-1zM710 595h2v1h-2zM715 591h1v1h-1zM716 590h1v1h-1zM717 589h1v1h-1zM721 585h1v1h-1zM722 584h2v1h-2zM727 581h1v1h-1zM728 580h1v1h-1zM729 579h1v1h-1zM733 577h3v1h-3zM739 575h3v1h-3zM745 574h3v1h-3zM751 574h1v1h-1zM752 575h2v1h-2zM757 576h1v1h-1zM758 577h2v1h-2zM763 579h2v1h-2zM765 580h1v1h-1zM769 582h2v1h-2zM771 583h1v1h-1zM775 586h1v1h-1zM776 587h1v1h-1zM777 588h1v1h-1zM781 591h1v1h-1zM782 592h1v1h-1zM783 593h1v1h-1zM787 596h2v1h-2zM789 597h1v1h-1zM793 600h1v1h-1zM794 601h2v1h-2zM799 604h1v1h-1zM800 605h1v1h-1zM801 606h1v1h-1zM805 609h1v1h-1zM806 610h2v1h-2zM811 613h1v1h-1zM812 614h2v1h-2zM817 616h2v1h-2zM819 617h1v1h-1zM823 618h1v1h-1zM824 619h2v1h-2zM829 621h3v1h-3zM835 622h3v1h-3zM841 624h2v1h-2zM843 625h1v1h-1zM847 627h2v1h-2zM849 628h1v1h-1zM853 630h3v1h-3zM859 632h2v1h-2zM861 633h1v1h-1zM865 635h1v1h-1zM866 636h1v1h-1zM867 637h1v1h-1zM871 641h2v1h-2zM873 642h1v1h-1zM877 644h2v1h-2zM879 645h1v1h-1zM883 646h2v1h-2zM885 647h1v1h-1zM889 647h2v1h-2zM891 646h1v1h-1zM895 645h2v1h-2zM897 644h1v1h-1zM901 642h2v1h-2zM903 641h1v1h-1zM907 640h1v1h-1zM908 639h2v1h-2zM913 638h3v1h-3zM919 639h1v1h-1zM920 640h2v1h-2zM925 642h1v1h-1zM926 643h1v1h-1zM927 644h1v1h-1zM931 647h1v1h-1zM932 648h1v1h-1zM933 649h1v1h-1zM937 652h1v1h-1zM938 653h1v1h-1zM939 654h1v1h-1zM943 657h3v1h-3zM949 658h2v1h-2zM951 657h1v1h-1zM955 656h2v1h-2zM957 655h1v1h-1zM961 653h2v1h-2zM963 652h1v1h-1zM966 648h1v1h-1zM967 647h1v1h-1zM968 646h1v1h-1zM971 642h1v1h-1zM972 641h1v1h-1zM973 640h1v1h-1zM975 636h1v1h-1zM976 635h1v1h-1zM977 634h1v1h-1zM981 630h1v1h-1zM982 629h1v1h-1zM983 628h1v1h-1zM987 625h1v1h-1zM988 624h1v1h-1zM989 623h1v1h-1zM993 621h3v1h-3zM999 619h1v1h-1zM1000 618h2v1h-2zM1005 618h3v1h-3zM1011 619h3v1h-3zM1017 620h3v1h-3zM1023 621h3v1h-3zM1029 620h3v1h-3zM1035 619h1v1h-1zM1036 618h2v1h-2zM1041 617h3v1h-3zM1047 615h2v1h-2zM1049 614h1v1h-1zM1053 612h2v1h-2zM1055 611h1v1h-1zM1059 610h1v1h-1zM1060 609h2v1h-2zM1065 610h2v1h-2zM1067 611h1v1h-1zM1071 613h2v1h-2zM1073 614h1v1h-1zM1077 616h1v1h-1zM1078 617h1v1h-1zM1079 618h1v1h-1zM1083 621h1v1h-1zM1084 622h1v1h-1zM1085 623h1v1h-1zM1089 627h1v1h-1zM1090 628h1v1h-1zM1091 629h1v1h-1zM1094 633h1v1h-1zM1095 634h1v1h-1zM1096 635h1v1h-1zM1100 637h3v1h-3zM1106 639h3v1h-3zM1112 638h3v1h-3zM1118 636h3v1h-3zM1124 634h1v1h-1zM1125 633h2v1h-2z"/>
<text x="6" y="578" font-size="9.3" fill="#000" stroke="#000" stroke-width="0.1" text-anchor="start" textLength="153" lengthAdjust="spacingAndGlyphs" >MACD(12,26,9) -0.001191 -0.002840</text>
<line x1="2" y1="710.5" x2="1417" y2="710.5" stroke="#c0c0c0" stroke-dasharray="3 3"/>
<line x1="2" y1="761.5" x2="1417" y2="761.5" stroke="#c0c0c0" stroke-dasharray="3 3"/>
<polyline fill="none" stroke="#1e90ff" stroke-width="1" shape-rendering="auto" points="2.5,724.5 6.5,722.5 12.5,718.5 18.5,716.5 22.5,708.5 25.5,709.5 30.5,709.5 34.5,709.5 37.5,708.5 42.5,709.5 46.5,719.5 50.5,717.5 53.5,716.5 58.5,716.5 62.5,726.5 66.5,720.5 70.5,714.5 74.5,713.5 77.5,711.5 81.5,713.5 86.5,714.5 90.5,718.5 94.5,714.5 98.5,710.5 102.5,718.5 106.5,717.5 110.5,712.5 114.5,707.5 118.5,703.5 122.5,720.5 126.5,716.5 130.5,722.5 134.5,719.5 138.5,726.5 142.5,724.5 146.5,719.5 150.5,719.5 154.5,719.5 158.5,713.5 162.5,723.5 166.5,723.5 170.5,722.5 174.5,736.5 178.5,738.5 182.5,748.5 186.5,745.5 190.5,745.5 194.5,745.5 198.5,739.5 202.5,739.5 206.5,737.5 209.5,736.5 214.5,747.5 218.5,739.5 222.5,732.5 226.5,735.5 230.5,736.5 234.5,737.5 237.5,738.5 242.5,748.5 246.5,753.5 250.5,752.5 254.5,752.5 258.5,742.5 262.5,743.5 266.5,740.5 270.5,730.5 273.5,730.5 278.5,741.5 282.5,743.5 286.5,739.5 290.5,752.5 294.5,735.5 298.5,736.5 302.5,749.5 306.5,748.5 310.5,734.5 314.5,744.5 318.5,746.5 322.5,748.5 326.5,751.5 330.5,748.5 334.5,737.5 338.5,740.5 342.5,741.5 346.5,742.5 350.5,751.5 354.5,748.5 358.5,756.5 362.5,739.5 366.5,739.5 370.5,739.5 374.5,743.5 378.5,734.5 382.5,729.5 386.5,725.5 390.5,724.5 394.5,724.5 398.5,722.5 402.5,722.5 406.5,727.5 410.5,726.5 414.5,730.5 418.5,732.5 422.5,733.5 426.5,728.5 430.5,730.5 434.5,730.5 438.5,727.5 442.5,727.5 446.5,722.5 450.5,719.5 454.5,714.5 458.5,714.5 462.5,722.5 466.5,724.5 470.5,715.5 474.5,712.5 478.5,708.5 482.5,720.5 486.5,720.5 490.5,721.5 494.5,721.5 498.5,730.5 503.5,733.5 506.5,732.5 510.5,734.5 515.5,734.5 521.5,735.5 526.5,732.5 530.5,743.5 534.5,736.5 538.5,738.5 542.5,735.5 546.5,722.5 550.5,723.5 554.5,710.5 558.5,721.5 562.5,720.5 566.5,716.5 570.5,725.5 574.5,734.5 578.5,734.5 580.5,735.5 584.5,737.5 588.5,738.5 592.5,741.5 595.5,746.5 598.5,758.5 602.5,756.5 606.5,749.5 610.5,750.5 614.5,753.5 618.5,748.5 622.5,746.5 626.5,745.5 630.5,742.5 634.5,744.5 638.5,732.5 642.5,735.5 646.5,738.5 650.5,731.5 654.5,731.5 657.5,730.5 662.5,733.5 666.5,732.5 670.5,725.5 674.5,723.5 678.5,723.5 682.5,725.5 686.5,721.5 690.5,712.5 694.5,705.5 698.5,700.5 702.5,703.5 706.5,702.5 710.5,696.5 714.5,696.5 718.5,698.5 722.5,702.5 726.5,702.5 730.5,701.5 734.5,703.5 738.5,712.5 742.5,708.5 746.5,716.5 750.5,721.5 754.5,718.5 758.5,713.5 762.5,712.5 766.5,730.5 770.5,738.5 774.5,744.5 778.5,754.5 782.5,744.5 786.5,745.5 790.5,740.5 794.5,738.5 798.5,739.5 802.5,744.5 806.5,737.5 810.5,742.5 814.5,752.5 818.5,756.5 822.5,754.5 826.5,746.5 830.5,739.5 834.5,737.5 838.5,740.5 842.5,751.5 846.5,753.5 850.5,762.5 854.5,763.5 858.5,758.5 862.5,762.5 866.5,767.5 870.5,759.5 872.5,758.5 874.5,759.5 878.5,751.5 882.5,745.5 886.5,746.5 890.5,736.5 894.5,736.5 898.5,737.5 902.5,733.5 906.5,747.5 910.5,760.5 914.5,763.5 918.5,765.5 922.5,767.5 926.5,761.5 930.5,756.5 934.5,757.5 938.5,758.5 942.5,750.5 946.5,737.5 950.5,739.5 954.5,739.5 958.5,740.5 962.5,729.5 966.5,730.5 970.5,726.5 974.5,727.5 978.5,737.5 982.5,733.5 986.5,742.5 990.5,742.5 994.5,742.5 998.5,735.5 1002.5,737.5 1006.5,744.5 1010.5,744.5 1014.5,743.5 1018.5,744.5 1022.5,738.5 1026.5,739.5 1030.5,727.5 1034.5,722.5 1038.5,724.5 1042.5,728.5 1046.5,732.5 1050.5,724.5 1054.5,732.5 1058.5,745.5 1062.5,745.5 1066.5,759.5 1070.5,749.5 1074.5,750.5 1078.5,751.5 1083.5,753.5 1087.5,755.5 1090.5,757.5 1094.5,743.5 1098.5,747.5 1102.5,742.5 1106.5,739.5 1110.5,737.5 1114.5,734.5 1118.5,739.5 1122.5,732.5 1126.5,732.5"/>
<text x="6" y="683" font-size="9.3" fill="#000" stroke="#000" stroke-width="0.1" text-anchor="start" textLength="68" lengthAdjust="spacingAndGlyphs" >RSI(14) 52.9332</text>
<rect x="2" y="801" width="1" height="3" fill="#000" />
<text x="1.5" y="813" font-size="9.3" fill="#000" stroke="#000" stroke-width="0.1" text-anchor="start" textLength="51.2" lengthAdjust="spacingAndGlyphs" >27 Sep 2018</text>
<rect x="66" y="801" width="1" height="3" fill="#000" />
<text x="65.5" y="813" font-size="9.3" fill="#000" stroke="#000" stroke-width="0.1" text-anchor="start" textLength="50.5" lengthAdjust="spacingAndGlyphs" >16 Oct 2018</text>
<rect x="130" y="801" width="1" height="3" fill="#000" />
<text x="129.5" y="813" font-size="9.3" fill="#000" stroke="#000" stroke-width="0.1" text-anchor="start" textLength="49.2" lengthAdjust="spacingAndGlyphs" >4 Nov 2018</text>
<rect x="194" y="801" width="1" height="3" fill="#000" />
<text x="193.5" y="813" font-size="9.3" fill="#000" stroke="#000" stroke-width="0.1" text-anchor="start" textLength="52.9" lengthAdjust="spacingAndGlyphs" >22 Nov 2018</text>
<rect x="258" y="801" width="1" height="3" fill="#000" />
<text x="257.5" y="813" font-size="9.3" fill="#000" stroke="#000" stroke-width="0.1" text-anchor="start" textLength="51.2" lengthAdjust="spacingAndGlyphs" >11 Dec 2018</text>
<rect x="322" y="801" width="1" height="3" fill="#000" />
<text x="321.5" y="813" font-size="9.3" fill="#000" stroke="#000" stroke-width="0.1" text-anchor="start" textLength="51.2" lengthAdjust="spacingAndGlyphs" >30 Dec 2018</text>
<rect x="386" y="801" width="1" height="3" fill="#000" />
<text x="385.5" y="813" font-size="9.3" fill="#000" stroke="#000" stroke-width="0.1" text-anchor="start" textLength="48.8" lengthAdjust="spacingAndGlyphs" >17 Jan 2019</text>
<rect x="450" y="801" width="1" height="3" fill="#000" />
<text x="449.5" y="813" font-size="9.3" fill="#000" stroke="#000" stroke-width="0.1" text-anchor="start" textLength="45.4" lengthAdjust="spacingAndGlyphs" >5 Feb 2019</text>
<rect x="514" y="801" width="1" height="3" fill="#000" />
<text x="513.5" y="813" font-size="9.3" fill="#000" stroke="#000" stroke-width="0.1" text-anchor="start" textLength="51.2" lengthAdjust="spacingAndGlyphs" >24 Feb 2019</text>
<rect x="578" y="801" width="1" height="3" fill="#000" />
<text x="577.5" y="813" font-size="9.3" fill="#000" stroke="#000" stroke-width="0.1" text-anchor="start" textLength="52" lengthAdjust="spacingAndGlyphs" >14 Mar 2019</text>
<rect x="642" y="801" width="1" height="3" fill="#000" />
<text x="641.5" y="813" font-size="9.3" fill="#000" stroke="#000" stroke-width="0.1" text-anchor="start" textLength="45" lengthAdjust="spacingAndGlyphs" >2 Apr 2019</text>
<rect x="706" y="801" width="1" height="3" fill="#000" />
<text x="705.5" y="813" font-size="9.3" fill="#000" stroke="#000" stroke-width="0.1" text-anchor="start" textLength="50.2" lengthAdjust="spacingAndGlyphs" >22 Apr 2019</text>
<rect x="770" y="801" width="1" height="3" fill="#000" />
<text x="769.5" y="813" font-size="9.3" fill="#000" stroke="#000" stroke-width="0.1" text-anchor="start" textLength="54.5" lengthAdjust="spacingAndGlyphs" >10 May 2019</text>
<rect x="834" y="801" width="1" height="3" fill="#000" />
<text x="833.5" y="813" font-size="9.3" fill="#000" stroke="#000" stroke-width="0.1" text-anchor="start" textLength="54.6" lengthAdjust="spacingAndGlyphs" >29 May 2019</text>
<rect x="898" y="801" width="1" height="3" fill="#000" />
<text x="897.5" y="813" font-size="9.3" fill="#000" stroke="#000" stroke-width="0.1" text-anchor="start" textLength="48.8" lengthAdjust="spacingAndGlyphs" >17 Jun 2019</text>
<rect x="962" y="801" width="1" height="3" fill="#000" />
<text x="961.5" y="813" font-size="9.3" fill="#000" stroke="#000" stroke-width="0.1" text-anchor="start" textLength="40.9" lengthAdjust="spacingAndGlyphs" >5 Jul 2019</text>
<rect x="1026" y="801" width="1" height="3" fill="#000" />
<text x="1025.5" y="813" font-size="9.3" fill="#000" stroke="#000" stroke-width="0.1" text-anchor="start" textLength="46.8" lengthAdjust="spacingAndGlyphs" >24 Jul 2019</text>
<rect x="1090" y="801" width="1" height="3" fill="#000" />
<text x="1089.5" y="813" font-size="9.3" fill="#000" stroke="#000" stroke-width="0.1" text-anchor="start" textLength="51.9" lengthAdjust="spacingAndGlyphs" >12 Aug 2019</text>
<rect x="0" y="821" width="1463" height="1" fill="#e8e8e8" />
<rect x="0" y="823" width="1465" height="20" fill="#f0f0f0" />
<rect x="0" y="823" width="1465" height="1" fill="#000" />
<rect x="220" y="823" width="106" height="18" fill="#fff" />
<rect x="219" y="823" width="1" height="19" fill="#000" />
<rect x="219" y="841" width="108" height="1" fill="#000" />
<rect x="326" y="823" width="1" height="19" fill="#000" />
<rect x="327" y="825" width="1" height="17" fill="#808080" />
<rect x="0" y="843" width="1465" height="7" fill="#f0f0f0" />
<rect x="0" y="847" width="1465" height="1" fill="#c0c0c0" />
<rect x="0" y="848" width="1465" height="2" fill="#fafafa" />
<text x="14.6" y="837.6" font-size="13" fill="#6a6a6a" text-anchor="start" textLength="84" lengthAdjust="spacingAndGlyphs" >EURUSD-,Daily</text>
<text x="121.2" y="837.6" font-size="13" fill="#6a6a6a" text-anchor="start" textLength="86.4" lengthAdjust="spacingAndGlyphs" >AUDUSD-,Daily</text>
<text x="338.3" y="837.6" font-size="13" fill="#6a6a6a" text-anchor="start" textLength="86" lengthAdjust="spacingAndGlyphs" >USDCAD-,Daily</text>
<text x="447.4" y="837.6" font-size="13" fill="#6a6a6a" text-anchor="start" textLength="87.8" lengthAdjust="spacingAndGlyphs" >USDCNH-,Daily</text>
<text x="558.4" y="837.6" font-size="13" fill="#6a6a6a" text-anchor="start" textLength="96.6" lengthAdjust="spacingAndGlyphs" >EURCHF-,Weekly</text>
<text x="679.2" y="837.6" font-size="13" fill="#6a6a6a" text-anchor="start" textLength="100" lengthAdjust="spacingAndGlyphs" >XAUUSD-,Weekly</text>
<text x="801.9" y="837.6" font-size="13" fill="#6a6a6a" text-anchor="start" textLength="73.4" lengthAdjust="spacingAndGlyphs" >GBPUSD-,H1</text>
<text x="898.5" y="837.6" font-size="13" fill="#6a6a6a" text-anchor="start" textLength="56" lengthAdjust="spacingAndGlyphs" >UKOil-,H1</text>
<text x="977" y="837.6" font-size="13" fill="#6a6a6a" text-anchor="start" textLength="82.6" lengthAdjust="spacingAndGlyphs" >USDX-,Weekly</text>
<text x="231" y="837.6" font-size="13" fill="#000" text-anchor="start" textLength="84" lengthAdjust="spacingAndGlyphs" >USDCHF-,Daily</text>
<rect x="111" y="827" width="1" height="13" fill="#808080" />
<rect x="436" y="827" width="1" height="13" fill="#808080" />
<rect x="547" y="827" width="1" height="13" fill="#808080" />
<rect x="667" y="827" width="1" height="13" fill="#808080" />
<rect x="791" y="827" width="1" height="13" fill="#808080" />
<rect x="887" y="827" width="1" height="13" fill="#808080" />
<rect x="967" y="827" width="1" height="13" fill="#808080" />
<rect x="1072" y="827" width="1" height="13" fill="#808080" />
<polygon points="1436.5,827.5 1436.5,835.5 1432,831.5" fill="#8a8a8a" shape-rendering="auto"/>
<polygon points="1451.5,827.5 1451.5,835.5 1456,831.5" fill="#8a8a8a" shape-rendering="auto"/>
</svg>
</body></html>
